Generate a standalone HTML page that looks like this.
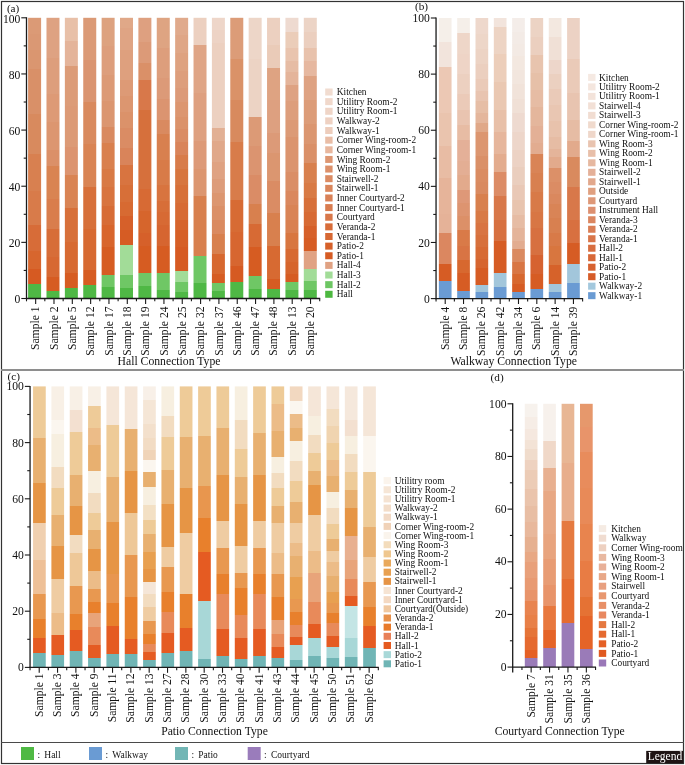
<!DOCTYPE html>
<html><head><meta charset="utf-8"><style>
html,body{margin:0;padding:0;background:#fff;width:685px;height:765px;overflow:hidden}
text{font-family:"Liberation Serif", serif}
</style></head><body>
<svg width="685" height="765" viewBox="0 0 685 765" style="position:absolute;left:0;top:0">
<rect x="0" y="0" width="685" height="765" fill="#ffffff"/>
<rect x="28.1" y="17.8" width="13" height="280.7" fill="url(#g0)"/>
<rect x="46.48" y="17.8" width="13" height="280.7" fill="url(#g1)"/>
<rect x="64.86" y="17.8" width="13" height="280.7" fill="url(#g2)"/>
<rect x="83.24" y="17.8" width="13" height="280.7" fill="url(#g3)"/>
<rect x="101.62" y="17.8" width="13" height="280.7" fill="url(#g4)"/>
<rect x="120" y="17.8" width="13" height="280.7" fill="url(#g5)"/>
<rect x="138.38" y="17.8" width="13" height="280.7" fill="url(#g6)"/>
<rect x="156.76" y="17.8" width="13" height="280.7" fill="url(#g7)"/>
<rect x="175.14" y="17.8" width="13" height="280.7" fill="url(#g8)"/>
<rect x="193.52" y="17.8" width="13" height="280.7" fill="url(#g9)"/>
<rect x="211.9" y="17.8" width="13" height="280.7" fill="url(#g10)"/>
<rect x="230.28" y="17.8" width="13" height="280.7" fill="url(#g11)"/>
<rect x="248.66" y="17.8" width="13" height="280.7" fill="url(#g12)"/>
<rect x="267.04" y="17.8" width="13" height="280.7" fill="url(#g13)"/>
<rect x="285.42" y="17.8" width="13" height="280.7" fill="url(#g14)"/>
<rect x="303.8" y="17.8" width="13" height="280.7" fill="url(#g15)"/>
<line x1="26.5" y1="17.3" x2="26.5" y2="299.1" stroke="#1a1a1a" stroke-width="1.3"/>
<line x1="25.9" y1="298.5" x2="320.2" y2="298.5" stroke="#1a1a1a" stroke-width="1.3"/>
<line x1="21.3" y1="298.5" x2="26.5" y2="298.5" stroke="#1a1a1a" stroke-width="1.1"/>
<line x1="23.7" y1="270.43" x2="26.5" y2="270.43" stroke="#1a1a1a" stroke-width="1.1"/>
<line x1="21.3" y1="242.36" x2="26.5" y2="242.36" stroke="#1a1a1a" stroke-width="1.1"/>
<line x1="23.7" y1="214.29" x2="26.5" y2="214.29" stroke="#1a1a1a" stroke-width="1.1"/>
<line x1="21.3" y1="186.22" x2="26.5" y2="186.22" stroke="#1a1a1a" stroke-width="1.1"/>
<line x1="23.7" y1="158.15" x2="26.5" y2="158.15" stroke="#1a1a1a" stroke-width="1.1"/>
<line x1="21.3" y1="130.08" x2="26.5" y2="130.08" stroke="#1a1a1a" stroke-width="1.1"/>
<line x1="23.7" y1="102.01" x2="26.5" y2="102.01" stroke="#1a1a1a" stroke-width="1.1"/>
<line x1="21.3" y1="73.94" x2="26.5" y2="73.94" stroke="#1a1a1a" stroke-width="1.1"/>
<line x1="23.7" y1="45.87" x2="26.5" y2="45.87" stroke="#1a1a1a" stroke-width="1.1"/>
<line x1="21.3" y1="17.8" x2="26.5" y2="17.8" stroke="#1a1a1a" stroke-width="1.1"/>
<line x1="26.5" y1="298.5" x2="26.5" y2="301.3" stroke="#1a1a1a" stroke-width="1.1"/>
<line x1="44.83" y1="298.5" x2="44.83" y2="301.3" stroke="#1a1a1a" stroke-width="1.1"/>
<line x1="63.15" y1="298.5" x2="63.15" y2="301.3" stroke="#1a1a1a" stroke-width="1.1"/>
<line x1="81.47" y1="298.5" x2="81.47" y2="301.3" stroke="#1a1a1a" stroke-width="1.1"/>
<line x1="99.8" y1="298.5" x2="99.8" y2="301.3" stroke="#1a1a1a" stroke-width="1.1"/>
<line x1="118.12" y1="298.5" x2="118.12" y2="301.3" stroke="#1a1a1a" stroke-width="1.1"/>
<line x1="136.45" y1="298.5" x2="136.45" y2="301.3" stroke="#1a1a1a" stroke-width="1.1"/>
<line x1="154.78" y1="298.5" x2="154.78" y2="301.3" stroke="#1a1a1a" stroke-width="1.1"/>
<line x1="173.1" y1="298.5" x2="173.1" y2="301.3" stroke="#1a1a1a" stroke-width="1.1"/>
<line x1="191.42" y1="298.5" x2="191.42" y2="301.3" stroke="#1a1a1a" stroke-width="1.1"/>
<line x1="209.75" y1="298.5" x2="209.75" y2="301.3" stroke="#1a1a1a" stroke-width="1.1"/>
<line x1="228.07" y1="298.5" x2="228.07" y2="301.3" stroke="#1a1a1a" stroke-width="1.1"/>
<line x1="246.4" y1="298.5" x2="246.4" y2="301.3" stroke="#1a1a1a" stroke-width="1.1"/>
<line x1="264.73" y1="298.5" x2="264.73" y2="301.3" stroke="#1a1a1a" stroke-width="1.1"/>
<line x1="283.05" y1="298.5" x2="283.05" y2="301.3" stroke="#1a1a1a" stroke-width="1.1"/>
<line x1="301.38" y1="298.5" x2="301.38" y2="301.3" stroke="#1a1a1a" stroke-width="1.1"/>
<line x1="319.7" y1="298.5" x2="319.7" y2="301.3" stroke="#1a1a1a" stroke-width="1.1"/>
<line x1="35.66" y1="298.5" x2="35.66" y2="303.9" stroke="#1a1a1a" stroke-width="1.1"/>
<line x1="53.99" y1="298.5" x2="53.99" y2="303.9" stroke="#1a1a1a" stroke-width="1.1"/>
<line x1="72.31" y1="298.5" x2="72.31" y2="303.9" stroke="#1a1a1a" stroke-width="1.1"/>
<line x1="90.64" y1="298.5" x2="90.64" y2="303.9" stroke="#1a1a1a" stroke-width="1.1"/>
<line x1="108.96" y1="298.5" x2="108.96" y2="303.9" stroke="#1a1a1a" stroke-width="1.1"/>
<line x1="127.29" y1="298.5" x2="127.29" y2="303.9" stroke="#1a1a1a" stroke-width="1.1"/>
<line x1="145.61" y1="298.5" x2="145.61" y2="303.9" stroke="#1a1a1a" stroke-width="1.1"/>
<line x1="163.94" y1="298.5" x2="163.94" y2="303.9" stroke="#1a1a1a" stroke-width="1.1"/>
<line x1="182.26" y1="298.5" x2="182.26" y2="303.9" stroke="#1a1a1a" stroke-width="1.1"/>
<line x1="200.59" y1="298.5" x2="200.59" y2="303.9" stroke="#1a1a1a" stroke-width="1.1"/>
<line x1="218.91" y1="298.5" x2="218.91" y2="303.9" stroke="#1a1a1a" stroke-width="1.1"/>
<line x1="237.24" y1="298.5" x2="237.24" y2="303.9" stroke="#1a1a1a" stroke-width="1.1"/>
<line x1="255.56" y1="298.5" x2="255.56" y2="303.9" stroke="#1a1a1a" stroke-width="1.1"/>
<line x1="273.89" y1="298.5" x2="273.89" y2="303.9" stroke="#1a1a1a" stroke-width="1.1"/>
<line x1="292.21" y1="298.5" x2="292.21" y2="303.9" stroke="#1a1a1a" stroke-width="1.1"/>
<line x1="310.54" y1="298.5" x2="310.54" y2="303.9" stroke="#1a1a1a" stroke-width="1.1"/>
<rect x="325.2" y="88.5" width="7.4" height="7" fill="#f1dcd0"/>
<rect x="325.2" y="98.13" width="7.4" height="7" fill="#f0d8cb"/>
<rect x="325.2" y="107.77" width="7.4" height="7" fill="#efd5c7"/>
<rect x="325.2" y="117.4" width="7.4" height="7" fill="#eed1c2"/>
<rect x="325.2" y="127.03" width="7.4" height="7" fill="#edcdbc"/>
<rect x="325.2" y="136.66" width="7.4" height="7" fill="#e9bda6"/>
<rect x="325.2" y="146.3" width="7.4" height="7" fill="#e8b79e"/>
<rect x="325.2" y="155.93" width="7.4" height="7" fill="#dd9672"/>
<rect x="325.2" y="165.56" width="7.4" height="7" fill="#dc906a"/>
<rect x="325.2" y="175.2" width="7.4" height="7" fill="#db8b63"/>
<rect x="325.2" y="184.83" width="7.4" height="7" fill="#da865c"/>
<rect x="325.2" y="194.46" width="7.4" height="7" fill="#d98157"/>
<rect x="325.2" y="204.1" width="7.4" height="7" fill="#d97c50"/>
<rect x="325.2" y="213.73" width="7.4" height="7" fill="#d8774a"/>
<rect x="325.2" y="223.36" width="7.4" height="7" fill="#d86d3a"/>
<rect x="325.2" y="232.99" width="7.4" height="7" fill="#d76833"/>
<rect x="325.2" y="242.63" width="7.4" height="7" fill="#d6612a"/>
<rect x="325.2" y="252.26" width="7.4" height="7" fill="#d65c24"/>
<rect x="325.2" y="261.89" width="7.4" height="7" fill="#e0a283"/>
<rect x="325.2" y="271.53" width="7.4" height="7" fill="#a2dc98"/>
<rect x="325.2" y="281.16" width="7.4" height="7" fill="#6dc663"/>
<rect x="325.2" y="290.79" width="7.4" height="7" fill="#4db840"/>
<rect x="438.86" y="18" width="12.7" height="280.6" fill="url(#g16)"/>
<rect x="457.18" y="18" width="12.7" height="280.6" fill="url(#g17)"/>
<rect x="475.5" y="18" width="12.7" height="280.6" fill="url(#g18)"/>
<rect x="493.82" y="18" width="12.7" height="280.6" fill="url(#g19)"/>
<rect x="512.14" y="18" width="12.7" height="280.6" fill="url(#g20)"/>
<rect x="530.46" y="18" width="12.7" height="280.6" fill="url(#g21)"/>
<rect x="548.78" y="18" width="12.7" height="280.6" fill="url(#g22)"/>
<rect x="567.1" y="18" width="12.7" height="280.6" fill="url(#g23)"/>
<line x1="436.05" y1="17.5" x2="436.05" y2="299.2" stroke="#1a1a1a" stroke-width="1.3"/>
<line x1="435.45" y1="298.6" x2="583.11" y2="298.6" stroke="#1a1a1a" stroke-width="1.3"/>
<line x1="430.85" y1="298.6" x2="436.05" y2="298.6" stroke="#1a1a1a" stroke-width="1.1"/>
<line x1="433.25" y1="270.54" x2="436.05" y2="270.54" stroke="#1a1a1a" stroke-width="1.1"/>
<line x1="430.85" y1="242.48" x2="436.05" y2="242.48" stroke="#1a1a1a" stroke-width="1.1"/>
<line x1="433.25" y1="214.42" x2="436.05" y2="214.42" stroke="#1a1a1a" stroke-width="1.1"/>
<line x1="430.85" y1="186.36" x2="436.05" y2="186.36" stroke="#1a1a1a" stroke-width="1.1"/>
<line x1="433.25" y1="158.3" x2="436.05" y2="158.3" stroke="#1a1a1a" stroke-width="1.1"/>
<line x1="430.85" y1="130.24" x2="436.05" y2="130.24" stroke="#1a1a1a" stroke-width="1.1"/>
<line x1="433.25" y1="102.18" x2="436.05" y2="102.18" stroke="#1a1a1a" stroke-width="1.1"/>
<line x1="430.85" y1="74.12" x2="436.05" y2="74.12" stroke="#1a1a1a" stroke-width="1.1"/>
<line x1="433.25" y1="46.06" x2="436.05" y2="46.06" stroke="#1a1a1a" stroke-width="1.1"/>
<line x1="430.85" y1="18" x2="436.05" y2="18" stroke="#1a1a1a" stroke-width="1.1"/>
<line x1="436.05" y1="298.6" x2="436.05" y2="301.4" stroke="#1a1a1a" stroke-width="1.1"/>
<line x1="454.37" y1="298.6" x2="454.37" y2="301.4" stroke="#1a1a1a" stroke-width="1.1"/>
<line x1="472.69" y1="298.6" x2="472.69" y2="301.4" stroke="#1a1a1a" stroke-width="1.1"/>
<line x1="491.01" y1="298.6" x2="491.01" y2="301.4" stroke="#1a1a1a" stroke-width="1.1"/>
<line x1="509.33" y1="298.6" x2="509.33" y2="301.4" stroke="#1a1a1a" stroke-width="1.1"/>
<line x1="527.65" y1="298.6" x2="527.65" y2="301.4" stroke="#1a1a1a" stroke-width="1.1"/>
<line x1="545.97" y1="298.6" x2="545.97" y2="301.4" stroke="#1a1a1a" stroke-width="1.1"/>
<line x1="564.29" y1="298.6" x2="564.29" y2="301.4" stroke="#1a1a1a" stroke-width="1.1"/>
<line x1="582.61" y1="298.6" x2="582.61" y2="301.4" stroke="#1a1a1a" stroke-width="1.1"/>
<line x1="445.21" y1="298.6" x2="445.21" y2="304" stroke="#1a1a1a" stroke-width="1.1"/>
<line x1="463.53" y1="298.6" x2="463.53" y2="304" stroke="#1a1a1a" stroke-width="1.1"/>
<line x1="481.85" y1="298.6" x2="481.85" y2="304" stroke="#1a1a1a" stroke-width="1.1"/>
<line x1="500.17" y1="298.6" x2="500.17" y2="304" stroke="#1a1a1a" stroke-width="1.1"/>
<line x1="518.49" y1="298.6" x2="518.49" y2="304" stroke="#1a1a1a" stroke-width="1.1"/>
<line x1="536.81" y1="298.6" x2="536.81" y2="304" stroke="#1a1a1a" stroke-width="1.1"/>
<line x1="555.13" y1="298.6" x2="555.13" y2="304" stroke="#1a1a1a" stroke-width="1.1"/>
<line x1="573.45" y1="298.6" x2="573.45" y2="304" stroke="#1a1a1a" stroke-width="1.1"/>
<rect x="588.1" y="73.9" width="7.4" height="7" fill="#f5e9e2"/>
<rect x="588.1" y="83.39" width="7.4" height="7" fill="#f4e6de"/>
<rect x="588.1" y="92.88" width="7.4" height="7" fill="#f3e3da"/>
<rect x="588.1" y="102.37" width="7.4" height="7" fill="#f2e0d6"/>
<rect x="588.1" y="111.86" width="7.4" height="7" fill="#f1ddd2"/>
<rect x="588.1" y="121.35" width="7.4" height="7" fill="#f0dacd"/>
<rect x="588.1" y="130.84" width="7.4" height="7" fill="#efd7ca"/>
<rect x="588.1" y="140.33" width="7.4" height="7" fill="#e9c4b0"/>
<rect x="588.1" y="149.82" width="7.4" height="7" fill="#e8bfa9"/>
<rect x="588.1" y="159.31" width="7.4" height="7" fill="#e6b8a0"/>
<rect x="588.1" y="168.8" width="7.4" height="7" fill="#e4b098"/>
<rect x="588.1" y="178.29" width="7.4" height="7" fill="#e2a88c"/>
<rect x="588.1" y="187.78" width="7.4" height="7" fill="#e0a080"/>
<rect x="588.1" y="197.27" width="7.4" height="7" fill="#de9878"/>
<rect x="588.1" y="206.76" width="7.4" height="7" fill="#dd9070"/>
<rect x="588.1" y="216.25" width="7.4" height="7" fill="#db8660"/>
<rect x="588.1" y="225.74" width="7.4" height="7" fill="#da7e55"/>
<rect x="588.1" y="235.23" width="7.4" height="7" fill="#d9764a"/>
<rect x="588.1" y="244.72" width="7.4" height="7" fill="#d86e40"/>
<rect x="588.1" y="254.21" width="7.4" height="7" fill="#d86838"/>
<rect x="588.1" y="263.7" width="7.4" height="7" fill="#d76230"/>
<rect x="588.1" y="273.19" width="7.4" height="7" fill="#d65c28"/>
<rect x="588.1" y="282.68" width="7.4" height="7" fill="#a3c8dd"/>
<rect x="588.1" y="292.17" width="7.4" height="7" fill="#6a9bd3"/>
<rect x="33.05" y="386.4" width="12.7" height="281" fill="url(#g24)"/>
<rect x="51.39" y="386.4" width="12.7" height="281" fill="url(#g25)"/>
<rect x="69.73" y="386.4" width="12.7" height="281" fill="url(#g26)"/>
<rect x="88.07" y="386.4" width="12.7" height="281" fill="url(#g27)"/>
<rect x="106.41" y="386.4" width="12.7" height="281" fill="url(#g28)"/>
<rect x="124.75" y="386.4" width="12.7" height="281" fill="url(#g29)"/>
<rect x="143.09" y="386.4" width="12.7" height="281" fill="url(#g30)"/>
<rect x="161.43" y="386.4" width="12.7" height="281" fill="url(#g31)"/>
<rect x="179.77" y="386.4" width="12.7" height="281" fill="url(#g32)"/>
<rect x="198.11" y="386.4" width="12.7" height="281" fill="url(#g33)"/>
<rect x="216.45" y="386.4" width="12.7" height="281" fill="url(#g34)"/>
<rect x="234.79" y="386.4" width="12.7" height="281" fill="url(#g35)"/>
<rect x="253.13" y="386.4" width="12.7" height="281" fill="url(#g36)"/>
<rect x="271.47" y="386.4" width="12.7" height="281" fill="url(#g37)"/>
<rect x="289.81" y="386.4" width="12.7" height="281" fill="url(#g38)"/>
<rect x="308.15" y="386.4" width="12.7" height="281" fill="url(#g39)"/>
<rect x="326.49" y="386.4" width="12.7" height="281" fill="url(#g40)"/>
<rect x="344.83" y="386.4" width="12.7" height="281" fill="url(#g41)"/>
<rect x="363.17" y="386.4" width="12.7" height="281" fill="url(#g42)"/>
<line x1="30.05" y1="385.9" x2="30.05" y2="668" stroke="#1a1a1a" stroke-width="1.3"/>
<line x1="29.45" y1="667.4" x2="378.82" y2="667.4" stroke="#1a1a1a" stroke-width="1.3"/>
<line x1="24.85" y1="667.4" x2="30.05" y2="667.4" stroke="#1a1a1a" stroke-width="1.1"/>
<line x1="27.25" y1="639.3" x2="30.05" y2="639.3" stroke="#1a1a1a" stroke-width="1.1"/>
<line x1="24.85" y1="611.2" x2="30.05" y2="611.2" stroke="#1a1a1a" stroke-width="1.1"/>
<line x1="27.25" y1="583.1" x2="30.05" y2="583.1" stroke="#1a1a1a" stroke-width="1.1"/>
<line x1="24.85" y1="555" x2="30.05" y2="555" stroke="#1a1a1a" stroke-width="1.1"/>
<line x1="27.25" y1="526.9" x2="30.05" y2="526.9" stroke="#1a1a1a" stroke-width="1.1"/>
<line x1="24.85" y1="498.8" x2="30.05" y2="498.8" stroke="#1a1a1a" stroke-width="1.1"/>
<line x1="27.25" y1="470.7" x2="30.05" y2="470.7" stroke="#1a1a1a" stroke-width="1.1"/>
<line x1="24.85" y1="442.6" x2="30.05" y2="442.6" stroke="#1a1a1a" stroke-width="1.1"/>
<line x1="27.25" y1="414.5" x2="30.05" y2="414.5" stroke="#1a1a1a" stroke-width="1.1"/>
<line x1="24.85" y1="386.4" x2="30.05" y2="386.4" stroke="#1a1a1a" stroke-width="1.1"/>
<line x1="30.05" y1="667.4" x2="30.05" y2="670.2" stroke="#1a1a1a" stroke-width="1.1"/>
<line x1="48.38" y1="667.4" x2="48.38" y2="670.2" stroke="#1a1a1a" stroke-width="1.1"/>
<line x1="66.71" y1="667.4" x2="66.71" y2="670.2" stroke="#1a1a1a" stroke-width="1.1"/>
<line x1="85.04" y1="667.4" x2="85.04" y2="670.2" stroke="#1a1a1a" stroke-width="1.1"/>
<line x1="103.37" y1="667.4" x2="103.37" y2="670.2" stroke="#1a1a1a" stroke-width="1.1"/>
<line x1="121.7" y1="667.4" x2="121.7" y2="670.2" stroke="#1a1a1a" stroke-width="1.1"/>
<line x1="140.03" y1="667.4" x2="140.03" y2="670.2" stroke="#1a1a1a" stroke-width="1.1"/>
<line x1="158.36" y1="667.4" x2="158.36" y2="670.2" stroke="#1a1a1a" stroke-width="1.1"/>
<line x1="176.69" y1="667.4" x2="176.69" y2="670.2" stroke="#1a1a1a" stroke-width="1.1"/>
<line x1="195.02" y1="667.4" x2="195.02" y2="670.2" stroke="#1a1a1a" stroke-width="1.1"/>
<line x1="213.35" y1="667.4" x2="213.35" y2="670.2" stroke="#1a1a1a" stroke-width="1.1"/>
<line x1="231.68" y1="667.4" x2="231.68" y2="670.2" stroke="#1a1a1a" stroke-width="1.1"/>
<line x1="250.01" y1="667.4" x2="250.01" y2="670.2" stroke="#1a1a1a" stroke-width="1.1"/>
<line x1="268.34" y1="667.4" x2="268.34" y2="670.2" stroke="#1a1a1a" stroke-width="1.1"/>
<line x1="286.67" y1="667.4" x2="286.67" y2="670.2" stroke="#1a1a1a" stroke-width="1.1"/>
<line x1="305" y1="667.4" x2="305" y2="670.2" stroke="#1a1a1a" stroke-width="1.1"/>
<line x1="323.33" y1="667.4" x2="323.33" y2="670.2" stroke="#1a1a1a" stroke-width="1.1"/>
<line x1="341.66" y1="667.4" x2="341.66" y2="670.2" stroke="#1a1a1a" stroke-width="1.1"/>
<line x1="359.99" y1="667.4" x2="359.99" y2="670.2" stroke="#1a1a1a" stroke-width="1.1"/>
<line x1="378.32" y1="667.4" x2="378.32" y2="670.2" stroke="#1a1a1a" stroke-width="1.1"/>
<line x1="39.22" y1="667.4" x2="39.22" y2="672.8" stroke="#1a1a1a" stroke-width="1.1"/>
<line x1="57.55" y1="667.4" x2="57.55" y2="672.8" stroke="#1a1a1a" stroke-width="1.1"/>
<line x1="75.88" y1="667.4" x2="75.88" y2="672.8" stroke="#1a1a1a" stroke-width="1.1"/>
<line x1="94.2" y1="667.4" x2="94.2" y2="672.8" stroke="#1a1a1a" stroke-width="1.1"/>
<line x1="112.53" y1="667.4" x2="112.53" y2="672.8" stroke="#1a1a1a" stroke-width="1.1"/>
<line x1="130.87" y1="667.4" x2="130.87" y2="672.8" stroke="#1a1a1a" stroke-width="1.1"/>
<line x1="149.19" y1="667.4" x2="149.19" y2="672.8" stroke="#1a1a1a" stroke-width="1.1"/>
<line x1="167.53" y1="667.4" x2="167.53" y2="672.8" stroke="#1a1a1a" stroke-width="1.1"/>
<line x1="185.85" y1="667.4" x2="185.85" y2="672.8" stroke="#1a1a1a" stroke-width="1.1"/>
<line x1="204.19" y1="667.4" x2="204.19" y2="672.8" stroke="#1a1a1a" stroke-width="1.1"/>
<line x1="222.51" y1="667.4" x2="222.51" y2="672.8" stroke="#1a1a1a" stroke-width="1.1"/>
<line x1="240.84" y1="667.4" x2="240.84" y2="672.8" stroke="#1a1a1a" stroke-width="1.1"/>
<line x1="259.17" y1="667.4" x2="259.17" y2="672.8" stroke="#1a1a1a" stroke-width="1.1"/>
<line x1="277.5" y1="667.4" x2="277.5" y2="672.8" stroke="#1a1a1a" stroke-width="1.1"/>
<line x1="295.83" y1="667.4" x2="295.83" y2="672.8" stroke="#1a1a1a" stroke-width="1.1"/>
<line x1="314.16" y1="667.4" x2="314.16" y2="672.8" stroke="#1a1a1a" stroke-width="1.1"/>
<line x1="332.5" y1="667.4" x2="332.5" y2="672.8" stroke="#1a1a1a" stroke-width="1.1"/>
<line x1="350.82" y1="667.4" x2="350.82" y2="672.8" stroke="#1a1a1a" stroke-width="1.1"/>
<line x1="369.15" y1="667.4" x2="369.15" y2="672.8" stroke="#1a1a1a" stroke-width="1.1"/>
<rect x="383.6" y="477.1" width="7.4" height="7" fill="#fbf4ec"/>
<rect x="383.6" y="486.26" width="7.4" height="7" fill="#f6e6d6"/>
<rect x="383.6" y="495.42" width="7.4" height="7" fill="#f5e3d2"/>
<rect x="383.6" y="504.58" width="7.4" height="7" fill="#f3ddc9"/>
<rect x="383.6" y="513.74" width="7.4" height="7" fill="#f2dac6"/>
<rect x="383.6" y="522.9" width="7.4" height="7" fill="#f0d2b8"/>
<rect x="383.6" y="532.06" width="7.4" height="7" fill="#faf4ec"/>
<rect x="383.6" y="541.22" width="7.4" height="7" fill="#f3dcbc"/>
<rect x="383.6" y="550.38" width="7.4" height="7" fill="#efc78f"/>
<rect x="383.6" y="559.54" width="7.4" height="7" fill="#e9a95c"/>
<rect x="383.6" y="568.7" width="7.4" height="7" fill="#e8a050"/>
<rect x="383.6" y="577.86" width="7.4" height="7" fill="#e69445"/>
<rect x="383.6" y="587.02" width="7.4" height="7" fill="#f6e4d3"/>
<rect x="383.6" y="596.18" width="7.4" height="7" fill="#f4d9c2"/>
<rect x="383.6" y="605.34" width="7.4" height="7" fill="#f0c8a0"/>
<rect x="383.6" y="614.5" width="7.4" height="7" fill="#e8904a"/>
<rect x="383.6" y="623.66" width="7.4" height="7" fill="#e87a2a"/>
<rect x="383.6" y="632.82" width="7.4" height="7" fill="#e88058"/>
<rect x="383.6" y="641.98" width="7.4" height="7" fill="#e55a20"/>
<rect x="383.6" y="651.14" width="7.4" height="7" fill="#a8d8d8"/>
<rect x="383.6" y="660.3" width="7.4" height="7" fill="#6fb5b5"/>
<rect x="524.8" y="403.8" width="12.7" height="263.3" fill="url(#g43)"/>
<rect x="543.2" y="403.8" width="12.7" height="263.3" fill="url(#g44)"/>
<rect x="561.6" y="403.8" width="12.7" height="263.3" fill="url(#g45)"/>
<rect x="580" y="403.8" width="12.7" height="263.3" fill="url(#g46)"/>
<line x1="512.7" y1="403.3" x2="512.7" y2="672.5" stroke="#1a1a1a" stroke-width="1.3"/>
<line x1="512.1" y1="667.1" x2="596.05" y2="667.1" stroke="#1a1a1a" stroke-width="1.3"/>
<line x1="507.5" y1="667.1" x2="512.7" y2="667.1" stroke="#1a1a1a" stroke-width="1.1"/>
<line x1="509.9" y1="640.77" x2="512.7" y2="640.77" stroke="#1a1a1a" stroke-width="1.1"/>
<line x1="507.5" y1="614.44" x2="512.7" y2="614.44" stroke="#1a1a1a" stroke-width="1.1"/>
<line x1="509.9" y1="588.11" x2="512.7" y2="588.11" stroke="#1a1a1a" stroke-width="1.1"/>
<line x1="507.5" y1="561.78" x2="512.7" y2="561.78" stroke="#1a1a1a" stroke-width="1.1"/>
<line x1="509.9" y1="535.45" x2="512.7" y2="535.45" stroke="#1a1a1a" stroke-width="1.1"/>
<line x1="507.5" y1="509.12" x2="512.7" y2="509.12" stroke="#1a1a1a" stroke-width="1.1"/>
<line x1="509.9" y1="482.79" x2="512.7" y2="482.79" stroke="#1a1a1a" stroke-width="1.1"/>
<line x1="507.5" y1="456.46" x2="512.7" y2="456.46" stroke="#1a1a1a" stroke-width="1.1"/>
<line x1="509.9" y1="430.13" x2="512.7" y2="430.13" stroke="#1a1a1a" stroke-width="1.1"/>
<line x1="507.5" y1="403.8" x2="512.7" y2="403.8" stroke="#1a1a1a" stroke-width="1.1"/>
<line x1="521.95" y1="667.1" x2="521.95" y2="669.9" stroke="#1a1a1a" stroke-width="1.1"/>
<line x1="540.35" y1="667.1" x2="540.35" y2="669.9" stroke="#1a1a1a" stroke-width="1.1"/>
<line x1="558.75" y1="667.1" x2="558.75" y2="669.9" stroke="#1a1a1a" stroke-width="1.1"/>
<line x1="577.15" y1="667.1" x2="577.15" y2="669.9" stroke="#1a1a1a" stroke-width="1.1"/>
<line x1="595.55" y1="667.1" x2="595.55" y2="669.9" stroke="#1a1a1a" stroke-width="1.1"/>
<line x1="531.15" y1="667.1" x2="531.15" y2="672.5" stroke="#1a1a1a" stroke-width="1.1"/>
<line x1="549.55" y1="667.1" x2="549.55" y2="672.5" stroke="#1a1a1a" stroke-width="1.1"/>
<line x1="567.95" y1="667.1" x2="567.95" y2="672.5" stroke="#1a1a1a" stroke-width="1.1"/>
<line x1="586.35" y1="667.1" x2="586.35" y2="672.5" stroke="#1a1a1a" stroke-width="1.1"/>
<rect x="598.8" y="525.1" width="7.4" height="7" fill="#f5ebe3"/>
<rect x="598.8" y="534.7" width="7.4" height="7" fill="#f0dcd0"/>
<rect x="598.8" y="544.3" width="7.4" height="7" fill="#edd0c0"/>
<rect x="598.8" y="553.9" width="7.4" height="7" fill="#e8b8a0"/>
<rect x="598.8" y="563.5" width="7.4" height="7" fill="#e8b098"/>
<rect x="598.8" y="573.1" width="7.4" height="7" fill="#e8a888"/>
<rect x="598.8" y="582.7" width="7.4" height="7" fill="#e8a080"/>
<rect x="598.8" y="592.3" width="7.4" height="7" fill="#e89870"/>
<rect x="598.8" y="601.9" width="7.4" height="7" fill="#e89068"/>
<rect x="598.8" y="611.5" width="7.4" height="7" fill="#e88860"/>
<rect x="598.8" y="621.1" width="7.4" height="7" fill="#e57840"/>
<rect x="598.8" y="630.7" width="7.4" height="7" fill="#e56a30"/>
<rect x="598.8" y="640.3" width="7.4" height="7" fill="#e56025"/>
<rect x="598.8" y="649.9" width="7.4" height="7" fill="#e05a20"/>
<rect x="598.8" y="659.5" width="7.4" height="7" fill="#9a78b8"/>
<defs><linearGradient id="g0" gradientUnits="userSpaceOnUse" x1="0" y1="298.5" x2="0" y2="17.8"><stop offset="0.0000" stop-color="#4fb845"/><stop offset="0.0510" stop-color="#4fb845"/><stop offset="0.0510" stop-color="#d65a22"/><stop offset="0.1060" stop-color="#d65a22"/><stop offset="0.1060" stop-color="#d7662e"/><stop offset="0.1700" stop-color="#d7662e"/><stop offset="0.1700" stop-color="#d76c38"/><stop offset="0.2620" stop-color="#d76c38"/><stop offset="0.2620" stop-color="#d87b4a"/><stop offset="0.3820" stop-color="#d87b4a"/><stop offset="0.3820" stop-color="#d88050"/><stop offset="0.5140" stop-color="#d88050"/><stop offset="0.5140" stop-color="#d88a5e"/><stop offset="0.6590" stop-color="#d88a5e"/><stop offset="0.6590" stop-color="#d99068"/><stop offset="0.8180" stop-color="#d99068"/><stop offset="0.8180" stop-color="#da9670"/><stop offset="0.8850" stop-color="#da9670"/><stop offset="0.8850" stop-color="#da9874"/><stop offset="0.9430" stop-color="#da9874"/><stop offset="0.9430" stop-color="#db9a76"/><stop offset="1.0000" stop-color="#db9a76"/></linearGradient><linearGradient id="g1" gradientUnits="userSpaceOnUse" x1="0" y1="298.5" x2="0" y2="17.8"><stop offset="0.0000" stop-color="#4fb845"/><stop offset="0.0270" stop-color="#4fb845"/><stop offset="0.0270" stop-color="#d65c22"/><stop offset="0.0770" stop-color="#d65c22"/><stop offset="0.0770" stop-color="#d76832"/><stop offset="0.1470" stop-color="#d76832"/><stop offset="0.1470" stop-color="#d76d38"/><stop offset="0.2470" stop-color="#d76d38"/><stop offset="0.2470" stop-color="#d97d4c"/><stop offset="0.3540" stop-color="#d97d4c"/><stop offset="0.3540" stop-color="#d98452"/><stop offset="0.4720" stop-color="#d98452"/><stop offset="0.4720" stop-color="#db9068"/><stop offset="0.5300" stop-color="#db9068"/><stop offset="0.5300" stop-color="#dc9670"/><stop offset="0.6290" stop-color="#dc9670"/><stop offset="0.6290" stop-color="#dd9a76"/><stop offset="0.7300" stop-color="#dd9a76"/><stop offset="0.7300" stop-color="#dd9e7c"/><stop offset="0.8580" stop-color="#dd9e7c"/><stop offset="0.8580" stop-color="#dea282"/><stop offset="1.0000" stop-color="#dea282"/></linearGradient><linearGradient id="g2" gradientUnits="userSpaceOnUse" x1="0" y1="298.5" x2="0" y2="17.8"><stop offset="0.0000" stop-color="#4fb845"/><stop offset="0.0380" stop-color="#4fb845"/><stop offset="0.0380" stop-color="#d65c22"/><stop offset="0.0920" stop-color="#d65c22"/><stop offset="0.0920" stop-color="#d76a32"/><stop offset="0.2030" stop-color="#d76a32"/><stop offset="0.2030" stop-color="#d7703a"/><stop offset="0.3230" stop-color="#d7703a"/><stop offset="0.3230" stop-color="#d98454"/><stop offset="0.4400" stop-color="#d98454"/><stop offset="0.4400" stop-color="#dc9470"/><stop offset="0.5380" stop-color="#dc9470"/><stop offset="0.5380" stop-color="#dc9a76"/><stop offset="0.6860" stop-color="#dc9a76"/><stop offset="0.6860" stop-color="#dc9c78"/><stop offset="0.8290" stop-color="#dc9c78"/><stop offset="0.8290" stop-color="#e4b49a"/><stop offset="0.9170" stop-color="#e4b49a"/><stop offset="0.9170" stop-color="#e8c0a8"/><stop offset="1.0000" stop-color="#e8c0a8"/></linearGradient><linearGradient id="g3" gradientUnits="userSpaceOnUse" x1="0" y1="298.5" x2="0" y2="17.8"><stop offset="0.0000" stop-color="#4fb845"/><stop offset="0.0480" stop-color="#4fb845"/><stop offset="0.0480" stop-color="#d65c22"/><stop offset="0.1000" stop-color="#d65c22"/><stop offset="0.1000" stop-color="#d76a32"/><stop offset="0.2470" stop-color="#d76a32"/><stop offset="0.2470" stop-color="#d7703a"/><stop offset="0.3990" stop-color="#d7703a"/><stop offset="0.3990" stop-color="#d98454"/><stop offset="0.5510" stop-color="#d98454"/><stop offset="0.5510" stop-color="#d98a5e"/><stop offset="0.7000" stop-color="#d98a5e"/><stop offset="0.7000" stop-color="#da9470"/><stop offset="0.8510" stop-color="#da9470"/><stop offset="0.8510" stop-color="#db9a76"/><stop offset="1.0000" stop-color="#db9a76"/></linearGradient><linearGradient id="g4" gradientUnits="userSpaceOnUse" x1="0" y1="298.5" x2="0" y2="17.8"><stop offset="0.0000" stop-color="#4fb845"/><stop offset="0.0410" stop-color="#4fb845"/><stop offset="0.0410" stop-color="#6fc765"/><stop offset="0.0850" stop-color="#6fc765"/><stop offset="0.0850" stop-color="#d65c22"/><stop offset="0.1830" stop-color="#d65c22"/><stop offset="0.1830" stop-color="#d8652c"/><stop offset="0.2610" stop-color="#d8652c"/><stop offset="0.2610" stop-color="#d76c36"/><stop offset="0.3280" stop-color="#d76c36"/><stop offset="0.3280" stop-color="#d8743f"/><stop offset="0.3990" stop-color="#d8743f"/><stop offset="0.3990" stop-color="#d87a45"/><stop offset="0.4600" stop-color="#d87a45"/><stop offset="0.4600" stop-color="#d9804e"/><stop offset="0.5540" stop-color="#d9804e"/><stop offset="0.5540" stop-color="#d98a60"/><stop offset="0.6110" stop-color="#d98a60"/><stop offset="0.6110" stop-color="#db9670"/><stop offset="0.7020" stop-color="#db9670"/><stop offset="0.7020" stop-color="#dc9a76"/><stop offset="0.7950" stop-color="#dc9a76"/><stop offset="0.7950" stop-color="#dd9e7c"/><stop offset="0.8980" stop-color="#dd9e7c"/><stop offset="0.8980" stop-color="#dda27f"/><stop offset="1.0000" stop-color="#dda27f"/></linearGradient><linearGradient id="g5" gradientUnits="userSpaceOnUse" x1="0" y1="298.5" x2="0" y2="17.8"><stop offset="0.0000" stop-color="#4fb845"/><stop offset="0.0380" stop-color="#4fb845"/><stop offset="0.0380" stop-color="#6fc765"/><stop offset="0.0850" stop-color="#6fc765"/><stop offset="0.0850" stop-color="#a2dc98"/><stop offset="0.1900" stop-color="#a2dc98"/><stop offset="0.1900" stop-color="#d65c24"/><stop offset="0.2440" stop-color="#d65c24"/><stop offset="0.2440" stop-color="#d6602a"/><stop offset="0.2950" stop-color="#d6602a"/><stop offset="0.2950" stop-color="#d76a32"/><stop offset="0.3450" stop-color="#d76a32"/><stop offset="0.3450" stop-color="#d76f38"/><stop offset="0.4030" stop-color="#d76f38"/><stop offset="0.4030" stop-color="#d87440"/><stop offset="0.4770" stop-color="#d87440"/><stop offset="0.4770" stop-color="#d9845a"/><stop offset="0.5370" stop-color="#d9845a"/><stop offset="0.5370" stop-color="#da8c64"/><stop offset="0.6080" stop-color="#da8c64"/><stop offset="0.6080" stop-color="#db926a"/><stop offset="0.6650" stop-color="#db926a"/><stop offset="0.6650" stop-color="#dc9670"/><stop offset="0.7230" stop-color="#dc9670"/><stop offset="0.7230" stop-color="#dd9a76"/><stop offset="0.7800" stop-color="#dd9a76"/><stop offset="0.7800" stop-color="#dea07e"/><stop offset="0.8850" stop-color="#dea07e"/><stop offset="0.8850" stop-color="#dfa484"/><stop offset="0.9630" stop-color="#dfa484"/><stop offset="0.9630" stop-color="#e0a888"/><stop offset="1.0000" stop-color="#e0a888"/></linearGradient><linearGradient id="g6" gradientUnits="userSpaceOnUse" x1="0" y1="298.5" x2="0" y2="17.8"><stop offset="0.0000" stop-color="#4fb845"/><stop offset="0.0450" stop-color="#4fb845"/><stop offset="0.0450" stop-color="#6fc765"/><stop offset="0.0920" stop-color="#6fc765"/><stop offset="0.0920" stop-color="#d65c22"/><stop offset="0.1860" stop-color="#d65c22"/><stop offset="0.1860" stop-color="#d6602a"/><stop offset="0.2340" stop-color="#d6602a"/><stop offset="0.2340" stop-color="#d6652c"/><stop offset="0.3120" stop-color="#d6652c"/><stop offset="0.3120" stop-color="#d76a34"/><stop offset="0.3890" stop-color="#d76a34"/><stop offset="0.3890" stop-color="#d6703c"/><stop offset="0.5130" stop-color="#d6703c"/><stop offset="0.5130" stop-color="#d6703c"/><stop offset="0.6720" stop-color="#d6703c"/><stop offset="0.6720" stop-color="#d8784a"/><stop offset="0.7800" stop-color="#d8784a"/><stop offset="0.7800" stop-color="#da9068"/><stop offset="0.8380" stop-color="#da9068"/><stop offset="0.8380" stop-color="#dc9a78"/><stop offset="0.9150" stop-color="#dc9a78"/><stop offset="0.9150" stop-color="#dea080"/><stop offset="1.0000" stop-color="#dea080"/></linearGradient><linearGradient id="g7" gradientUnits="userSpaceOnUse" x1="0" y1="298.5" x2="0" y2="17.8"><stop offset="0.0000" stop-color="#4fb845"/><stop offset="0.0300" stop-color="#4fb845"/><stop offset="0.0300" stop-color="#6fc765"/><stop offset="0.0920" stop-color="#6fc765"/><stop offset="0.0920" stop-color="#d65c22"/><stop offset="0.1860" stop-color="#d65c22"/><stop offset="0.1860" stop-color="#d66530"/><stop offset="0.2610" stop-color="#d66530"/><stop offset="0.2610" stop-color="#d76a34"/><stop offset="0.3080" stop-color="#d76a34"/><stop offset="0.3080" stop-color="#d76e38"/><stop offset="0.3490" stop-color="#d76e38"/><stop offset="0.3490" stop-color="#d8743f"/><stop offset="0.4030" stop-color="#d8743f"/><stop offset="0.4030" stop-color="#d87b48"/><stop offset="0.4940" stop-color="#d87b48"/><stop offset="0.4940" stop-color="#d8804f"/><stop offset="0.5860" stop-color="#d8804f"/><stop offset="0.5860" stop-color="#d98a60"/><stop offset="0.6350" stop-color="#d98a60"/><stop offset="0.6350" stop-color="#db9470"/><stop offset="0.7090" stop-color="#db9470"/><stop offset="0.7090" stop-color="#dc9a78"/><stop offset="0.7870" stop-color="#dc9a78"/><stop offset="0.7870" stop-color="#dd9e7c"/><stop offset="0.8920" stop-color="#dd9e7c"/><stop offset="0.8920" stop-color="#dea482"/><stop offset="1.0000" stop-color="#dea482"/></linearGradient><linearGradient id="g8" gradientUnits="userSpaceOnUse" x1="0" y1="298.5" x2="0" y2="17.8"><stop offset="0.0000" stop-color="#4fb845"/><stop offset="0.0230" stop-color="#4fb845"/><stop offset="0.0230" stop-color="#6fc765"/><stop offset="0.0600" stop-color="#6fc765"/><stop offset="0.0600" stop-color="#a2dc98"/><stop offset="0.0970" stop-color="#a2dc98"/><stop offset="0.0970" stop-color="#d65a22"/><stop offset="0.1830" stop-color="#d65a22"/><stop offset="0.1830" stop-color="#d65f26"/><stop offset="0.2440" stop-color="#d65f26"/><stop offset="0.2440" stop-color="#d6642c"/><stop offset="0.2810" stop-color="#d6642c"/><stop offset="0.2810" stop-color="#d76b34"/><stop offset="0.3420" stop-color="#d76b34"/><stop offset="0.3420" stop-color="#d77038"/><stop offset="0.4030" stop-color="#d77038"/><stop offset="0.4030" stop-color="#d7763f"/><stop offset="0.4630" stop-color="#d7763f"/><stop offset="0.4630" stop-color="#d87c4a"/><stop offset="0.5130" stop-color="#d87c4a"/><stop offset="0.5130" stop-color="#d9845a"/><stop offset="0.5570" stop-color="#d9845a"/><stop offset="0.5570" stop-color="#da8c64"/><stop offset="0.6050" stop-color="#da8c64"/><stop offset="0.6050" stop-color="#db926a"/><stop offset="0.6450" stop-color="#db926a"/><stop offset="0.6450" stop-color="#dc9670"/><stop offset="0.6990" stop-color="#dc9670"/><stop offset="0.6990" stop-color="#dc9a78"/><stop offset="0.7500" stop-color="#dc9a78"/><stop offset="0.7500" stop-color="#dd9e7c"/><stop offset="0.8110" stop-color="#dd9e7c"/><stop offset="0.8110" stop-color="#dea280"/><stop offset="0.8750" stop-color="#dea280"/><stop offset="0.8750" stop-color="#dfa686"/><stop offset="0.9390" stop-color="#dfa686"/><stop offset="0.9390" stop-color="#e0aa8c"/><stop offset="1.0000" stop-color="#e0aa8c"/></linearGradient><linearGradient id="g9" gradientUnits="userSpaceOnUse" x1="0" y1="298.5" x2="0" y2="17.8"><stop offset="0.0000" stop-color="#4fb845"/><stop offset="0.0550" stop-color="#4fb845"/><stop offset="0.0550" stop-color="#6fc765"/><stop offset="0.1530" stop-color="#6fc765"/><stop offset="0.1530" stop-color="#d8804e"/><stop offset="0.3650" stop-color="#d8804e"/><stop offset="0.3650" stop-color="#dc9670"/><stop offset="0.4630" stop-color="#dc9670"/><stop offset="0.4630" stop-color="#dd9a78"/><stop offset="0.5610" stop-color="#dd9a78"/><stop offset="0.5610" stop-color="#dea080"/><stop offset="0.7330" stop-color="#dea080"/><stop offset="0.7330" stop-color="#dfa586"/><stop offset="0.9030" stop-color="#dfa586"/><stop offset="0.9030" stop-color="#ecd0c0"/><stop offset="1.0000" stop-color="#ecd0c0"/></linearGradient><linearGradient id="g10" gradientUnits="userSpaceOnUse" x1="0" y1="298.5" x2="0" y2="17.8"><stop offset="0.0000" stop-color="#4fb845"/><stop offset="0.0260" stop-color="#4fb845"/><stop offset="0.0260" stop-color="#6fc765"/><stop offset="0.0550" stop-color="#6fc765"/><stop offset="0.0550" stop-color="#d65c22"/><stop offset="0.0880" stop-color="#d65c22"/><stop offset="0.0880" stop-color="#d7682f"/><stop offset="0.1590" stop-color="#d7682f"/><stop offset="0.1590" stop-color="#d8804e"/><stop offset="0.2300" stop-color="#d8804e"/><stop offset="0.2300" stop-color="#da8a60"/><stop offset="0.2810" stop-color="#da8a60"/><stop offset="0.2810" stop-color="#db9068"/><stop offset="0.3280" stop-color="#db9068"/><stop offset="0.3280" stop-color="#dc9670"/><stop offset="0.3760" stop-color="#dc9670"/><stop offset="0.3760" stop-color="#dd9c7a"/><stop offset="0.4260" stop-color="#dd9c7a"/><stop offset="0.4260" stop-color="#dfa282"/><stop offset="0.4870" stop-color="#dfa282"/><stop offset="0.4870" stop-color="#e0a88a"/><stop offset="0.5130" stop-color="#e0a88a"/><stop offset="0.5130" stop-color="#e0a88a"/><stop offset="0.5610" stop-color="#e0a88a"/><stop offset="0.5610" stop-color="#e2b094"/><stop offset="0.6080" stop-color="#e2b094"/><stop offset="0.6080" stop-color="#ecd0c0"/><stop offset="0.9090" stop-color="#ecd0c0"/><stop offset="0.9090" stop-color="#edd3c5"/><stop offset="0.9560" stop-color="#edd3c5"/><stop offset="0.9560" stop-color="#eed6c9"/><stop offset="1.0000" stop-color="#eed6c9"/></linearGradient><linearGradient id="g11" gradientUnits="userSpaceOnUse" x1="0" y1="298.5" x2="0" y2="17.8"><stop offset="0.0000" stop-color="#4fb845"/><stop offset="0.0600" stop-color="#4fb845"/><stop offset="0.0600" stop-color="#d65a22"/><stop offset="0.1150" stop-color="#d65a22"/><stop offset="0.1150" stop-color="#d76630"/><stop offset="0.2370" stop-color="#d76630"/><stop offset="0.2370" stop-color="#d76b34"/><stop offset="0.3520" stop-color="#d76b34"/><stop offset="0.3520" stop-color="#d87c4a"/><stop offset="0.5570" stop-color="#d87c4a"/><stop offset="0.5570" stop-color="#d88a5e"/><stop offset="0.7060" stop-color="#d88a5e"/><stop offset="0.7060" stop-color="#da9268"/><stop offset="0.8550" stop-color="#da9268"/><stop offset="0.8550" stop-color="#dc9c78"/><stop offset="1.0000" stop-color="#dc9c78"/></linearGradient><linearGradient id="g12" gradientUnits="userSpaceOnUse" x1="0" y1="298.5" x2="0" y2="17.8"><stop offset="0.0000" stop-color="#4fb845"/><stop offset="0.0340" stop-color="#4fb845"/><stop offset="0.0340" stop-color="#6fc765"/><stop offset="0.0800" stop-color="#6fc765"/><stop offset="0.0800" stop-color="#d65c22"/><stop offset="0.1830" stop-color="#d65c22"/><stop offset="0.1830" stop-color="#d76a34"/><stop offset="0.2640" stop-color="#d76a34"/><stop offset="0.2640" stop-color="#d8804e"/><stop offset="0.3360" stop-color="#d8804e"/><stop offset="0.3360" stop-color="#da8c66"/><stop offset="0.4400" stop-color="#da8c66"/><stop offset="0.4400" stop-color="#db9470"/><stop offset="0.5440" stop-color="#db9470"/><stop offset="0.5440" stop-color="#dc9a76"/><stop offset="0.6460" stop-color="#dc9a76"/><stop offset="0.6460" stop-color="#ecd3c4"/><stop offset="0.7500" stop-color="#ecd3c4"/><stop offset="0.7500" stop-color="#ecd3c4"/><stop offset="0.8550" stop-color="#ecd3c4"/><stop offset="0.8550" stop-color="#edd6c8"/><stop offset="1.0000" stop-color="#edd6c8"/></linearGradient><linearGradient id="g13" gradientUnits="userSpaceOnUse" x1="0" y1="298.5" x2="0" y2="17.8"><stop offset="0.0000" stop-color="#4fb845"/><stop offset="0.0340" stop-color="#4fb845"/><stop offset="0.0340" stop-color="#d65c22"/><stop offset="0.0680" stop-color="#d65c22"/><stop offset="0.0680" stop-color="#d76a32"/><stop offset="0.1860" stop-color="#d76a32"/><stop offset="0.1860" stop-color="#d8804e"/><stop offset="0.3050" stop-color="#d8804e"/><stop offset="0.3050" stop-color="#da8c64"/><stop offset="0.4200" stop-color="#da8c64"/><stop offset="0.4200" stop-color="#db9670"/><stop offset="0.5170" stop-color="#db9670"/><stop offset="0.5170" stop-color="#dc9a78"/><stop offset="0.5910" stop-color="#dc9a78"/><stop offset="0.5910" stop-color="#dda080"/><stop offset="0.7060" stop-color="#dda080"/><stop offset="0.7060" stop-color="#dea382"/><stop offset="0.8210" stop-color="#dea382"/><stop offset="0.8210" stop-color="#eacbb8"/><stop offset="0.9020" stop-color="#eacbb8"/><stop offset="0.9020" stop-color="#ecd0c0"/><stop offset="1.0000" stop-color="#ecd0c0"/></linearGradient><linearGradient id="g14" gradientUnits="userSpaceOnUse" x1="0" y1="298.5" x2="0" y2="17.8"><stop offset="0.0000" stop-color="#4fb845"/><stop offset="0.0300" stop-color="#4fb845"/><stop offset="0.0300" stop-color="#6fc765"/><stop offset="0.0580" stop-color="#6fc765"/><stop offset="0.0580" stop-color="#d65c22"/><stop offset="0.0860" stop-color="#d65c22"/><stop offset="0.0860" stop-color="#d6652c"/><stop offset="0.1290" stop-color="#d6652c"/><stop offset="0.1290" stop-color="#d76a32"/><stop offset="0.1760" stop-color="#d76a32"/><stop offset="0.1760" stop-color="#d87640"/><stop offset="0.2340" stop-color="#d87640"/><stop offset="0.2340" stop-color="#d98050"/><stop offset="0.2810" stop-color="#d98050"/><stop offset="0.2810" stop-color="#d98456"/><stop offset="0.3320" stop-color="#d98456"/><stop offset="0.3320" stop-color="#da885e"/><stop offset="0.3830" stop-color="#da885e"/><stop offset="0.3830" stop-color="#da8e66"/><stop offset="0.4500" stop-color="#da8e66"/><stop offset="0.4500" stop-color="#db946e"/><stop offset="0.5200" stop-color="#db946e"/><stop offset="0.5200" stop-color="#db946e"/><stop offset="0.5770" stop-color="#db946e"/><stop offset="0.5770" stop-color="#dc9a76"/><stop offset="0.6350" stop-color="#dc9a76"/><stop offset="0.6350" stop-color="#dd9e7c"/><stop offset="0.7020" stop-color="#dd9e7c"/><stop offset="0.7020" stop-color="#dea282"/><stop offset="0.7600" stop-color="#dea282"/><stop offset="0.7600" stop-color="#e4b49a"/><stop offset="0.8070" stop-color="#e4b49a"/><stop offset="0.8070" stop-color="#e6bca4"/><stop offset="0.8450" stop-color="#e6bca4"/><stop offset="0.8450" stop-color="#e9c4ae"/><stop offset="0.8920" stop-color="#e9c4ae"/><stop offset="0.8920" stop-color="#ebcdb9"/><stop offset="0.9490" stop-color="#ebcdb9"/><stop offset="0.9490" stop-color="#eedad0"/><stop offset="1.0000" stop-color="#eedad0"/></linearGradient><linearGradient id="g15" gradientUnits="userSpaceOnUse" x1="0" y1="298.5" x2="0" y2="17.8"><stop offset="0.0000" stop-color="#4fb845"/><stop offset="0.0300" stop-color="#4fb845"/><stop offset="0.0300" stop-color="#6fc765"/><stop offset="0.0610" stop-color="#6fc765"/><stop offset="0.0610" stop-color="#a2dc98"/><stop offset="0.1060" stop-color="#a2dc98"/><stop offset="0.1060" stop-color="#e0a283"/><stop offset="0.1700" stop-color="#e0a283"/><stop offset="0.1700" stop-color="#d65c24"/><stop offset="0.2140" stop-color="#d65c24"/><stop offset="0.2140" stop-color="#d6602a"/><stop offset="0.2570" stop-color="#d6602a"/><stop offset="0.2570" stop-color="#d76a34"/><stop offset="0.3080" stop-color="#d76a34"/><stop offset="0.3080" stop-color="#d7703a"/><stop offset="0.3590" stop-color="#d7703a"/><stop offset="0.3590" stop-color="#d87a45"/><stop offset="0.4100" stop-color="#d87a45"/><stop offset="0.4100" stop-color="#d8804e"/><stop offset="0.4810" stop-color="#d8804e"/><stop offset="0.4810" stop-color="#da9068"/><stop offset="0.5500" stop-color="#da9068"/><stop offset="0.5500" stop-color="#db9670"/><stop offset="0.6210" stop-color="#db9670"/><stop offset="0.6210" stop-color="#dc9c78"/><stop offset="0.7060" stop-color="#dc9c78"/><stop offset="0.7060" stop-color="#dea282"/><stop offset="0.7920" stop-color="#dea282"/><stop offset="0.7920" stop-color="#e6b8a0"/><stop offset="0.8450" stop-color="#e6b8a0"/><stop offset="0.8450" stop-color="#e8c2ac"/><stop offset="0.8920" stop-color="#e8c2ac"/><stop offset="0.8920" stop-color="#ebcfbf"/><stop offset="0.9490" stop-color="#ebcfbf"/><stop offset="0.9490" stop-color="#ecd4c6"/><stop offset="1.0000" stop-color="#ecd4c6"/></linearGradient><linearGradient id="g16" gradientUnits="userSpaceOnUse" x1="0" y1="298.6" x2="0" y2="18"><stop offset="0.0000" stop-color="#6a9bd3"/><stop offset="0.0620" stop-color="#6a9bd3"/><stop offset="0.0620" stop-color="#d65c24"/><stop offset="0.1250" stop-color="#d65c24"/><stop offset="0.1250" stop-color="#db8760"/><stop offset="0.2330" stop-color="#db8760"/><stop offset="0.2330" stop-color="#e5b298"/><stop offset="0.3020" stop-color="#e5b298"/><stop offset="0.3020" stop-color="#e6b49a"/><stop offset="0.4310" stop-color="#e6b49a"/><stop offset="0.4310" stop-color="#e8bca4"/><stop offset="0.5430" stop-color="#e8bca4"/><stop offset="0.5430" stop-color="#eac4ae"/><stop offset="0.6630" stop-color="#eac4ae"/><stop offset="0.6630" stop-color="#ecc8b4"/><stop offset="0.8250" stop-color="#ecc8b4"/><stop offset="0.8250" stop-color="#f2e4dc"/><stop offset="0.9130" stop-color="#f2e4dc"/><stop offset="0.9130" stop-color="#f5efe9"/><stop offset="1.0000" stop-color="#f5efe9"/></linearGradient><linearGradient id="g17" gradientUnits="userSpaceOnUse" x1="0" y1="298.6" x2="0" y2="18"><stop offset="0.0000" stop-color="#6a9bd3"/><stop offset="0.0280" stop-color="#6a9bd3"/><stop offset="0.0280" stop-color="#d65c24"/><stop offset="0.0920" stop-color="#d65c24"/><stop offset="0.0920" stop-color="#d7682f"/><stop offset="0.1370" stop-color="#d7682f"/><stop offset="0.1370" stop-color="#d87444"/><stop offset="0.1870" stop-color="#d87444"/><stop offset="0.1870" stop-color="#d97a48"/><stop offset="0.2450" stop-color="#d97a48"/><stop offset="0.2450" stop-color="#dc9068"/><stop offset="0.2960" stop-color="#dc9068"/><stop offset="0.2960" stop-color="#dd9470"/><stop offset="0.3420" stop-color="#dd9470"/><stop offset="0.3420" stop-color="#de9878"/><stop offset="0.3870" stop-color="#de9878"/><stop offset="0.3870" stop-color="#e2aa8c"/><stop offset="0.4390" stop-color="#e2aa8c"/><stop offset="0.4390" stop-color="#e3ae94"/><stop offset="0.4910" stop-color="#e3ae94"/><stop offset="0.4910" stop-color="#e4b098"/><stop offset="0.5650" stop-color="#e4b098"/><stop offset="0.5650" stop-color="#e7bca4"/><stop offset="0.6190" stop-color="#e7bca4"/><stop offset="0.6190" stop-color="#e9c4b0"/><stop offset="0.6730" stop-color="#e9c4b0"/><stop offset="0.6730" stop-color="#ebcab8"/><stop offset="0.7300" stop-color="#ebcab8"/><stop offset="0.7300" stop-color="#ecd0c0"/><stop offset="0.8010" stop-color="#ecd0c0"/><stop offset="0.8010" stop-color="#eed4c6"/><stop offset="0.8720" stop-color="#eed4c6"/><stop offset="0.8720" stop-color="#eed6c8"/><stop offset="0.9470" stop-color="#eed6c8"/><stop offset="0.9470" stop-color="#f5efe9"/><stop offset="1.0000" stop-color="#f5efe9"/></linearGradient><linearGradient id="g18" gradientUnits="userSpaceOnUse" x1="0" y1="298.6" x2="0" y2="18"><stop offset="0.0000" stop-color="#6a9bd3"/><stop offset="0.0240" stop-color="#6a9bd3"/><stop offset="0.0240" stop-color="#a2c6db"/><stop offset="0.0490" stop-color="#a2c6db"/><stop offset="0.0490" stop-color="#d65c24"/><stop offset="0.1100" stop-color="#d65c24"/><stop offset="0.1100" stop-color="#d66530"/><stop offset="0.1420" stop-color="#d66530"/><stop offset="0.1420" stop-color="#d76a34"/><stop offset="0.1840" stop-color="#d76a34"/><stop offset="0.1840" stop-color="#d7703c"/><stop offset="0.2280" stop-color="#d7703c"/><stop offset="0.2280" stop-color="#d87442"/><stop offset="0.2700" stop-color="#d87442"/><stop offset="0.2700" stop-color="#d87a46"/><stop offset="0.3120" stop-color="#d87a46"/><stop offset="0.3120" stop-color="#d8804e"/><stop offset="0.3730" stop-color="#d8804e"/><stop offset="0.3730" stop-color="#d98a60"/><stop offset="0.4170" stop-color="#d98a60"/><stop offset="0.4170" stop-color="#da8c62"/><stop offset="0.4610" stop-color="#da8c62"/><stop offset="0.4610" stop-color="#da9068"/><stop offset="0.5070" stop-color="#da9068"/><stop offset="0.5070" stop-color="#dc9670"/><stop offset="0.5950" stop-color="#dc9670"/><stop offset="0.5950" stop-color="#e0a888"/><stop offset="0.6260" stop-color="#e0a888"/><stop offset="0.6260" stop-color="#e4b69c"/><stop offset="0.6630" stop-color="#e4b69c"/><stop offset="0.6630" stop-color="#e6bea6"/><stop offset="0.7030" stop-color="#e6bea6"/><stop offset="0.7030" stop-color="#e8c4b0"/><stop offset="0.7400" stop-color="#e8c4b0"/><stop offset="0.7400" stop-color="#eacab8"/><stop offset="0.7810" stop-color="#eacab8"/><stop offset="0.7810" stop-color="#ebcfbf"/><stop offset="0.8350" stop-color="#ebcfbf"/><stop offset="0.8350" stop-color="#ecd3c4"/><stop offset="0.8890" stop-color="#ecd3c4"/><stop offset="0.8890" stop-color="#edd6c8"/><stop offset="0.9430" stop-color="#edd6c8"/><stop offset="0.9430" stop-color="#eed8cc"/><stop offset="1.0000" stop-color="#eed8cc"/></linearGradient><linearGradient id="g19" gradientUnits="userSpaceOnUse" x1="0" y1="298.6" x2="0" y2="18"><stop offset="0.0000" stop-color="#6a9bd3"/><stop offset="0.0410" stop-color="#6a9bd3"/><stop offset="0.0410" stop-color="#a2c6db"/><stop offset="0.0930" stop-color="#a2c6db"/><stop offset="0.0930" stop-color="#d65c24"/><stop offset="0.2040" stop-color="#d65c24"/><stop offset="0.2040" stop-color="#d77040"/><stop offset="0.2790" stop-color="#d77040"/><stop offset="0.2790" stop-color="#d8784a"/><stop offset="0.3670" stop-color="#d8784a"/><stop offset="0.3670" stop-color="#dc8c66"/><stop offset="0.4500" stop-color="#dc8c66"/><stop offset="0.4500" stop-color="#e3ac8e"/><stop offset="0.5140" stop-color="#e3ac8e"/><stop offset="0.5140" stop-color="#e6b69c"/><stop offset="0.5920" stop-color="#e6b69c"/><stop offset="0.5920" stop-color="#e8c0a8"/><stop offset="0.6730" stop-color="#e8c0a8"/><stop offset="0.6730" stop-color="#eac8b2"/><stop offset="0.7710" stop-color="#eac8b2"/><stop offset="0.7710" stop-color="#ecceba"/><stop offset="0.8720" stop-color="#ecceba"/><stop offset="0.8720" stop-color="#edd4c4"/><stop offset="0.9690" stop-color="#edd4c4"/><stop offset="0.9690" stop-color="#f2e4dc"/><stop offset="1.0000" stop-color="#f2e4dc"/></linearGradient><linearGradient id="g20" gradientUnits="userSpaceOnUse" x1="0" y1="298.6" x2="0" y2="18"><stop offset="0.0000" stop-color="#6a9bd3"/><stop offset="0.0240" stop-color="#6a9bd3"/><stop offset="0.0240" stop-color="#d65c24"/><stop offset="0.0520" stop-color="#d65c24"/><stop offset="0.0520" stop-color="#d7682f"/><stop offset="0.0860" stop-color="#d7682f"/><stop offset="0.0860" stop-color="#d87644"/><stop offset="0.1300" stop-color="#d87644"/><stop offset="0.1300" stop-color="#da8a60"/><stop offset="0.1770" stop-color="#da8a60"/><stop offset="0.1770" stop-color="#e2ac90"/><stop offset="0.2040" stop-color="#e2ac90"/><stop offset="0.2040" stop-color="#e4b49a"/><stop offset="0.2520" stop-color="#e4b49a"/><stop offset="0.2520" stop-color="#e6bca4"/><stop offset="0.2990" stop-color="#e6bca4"/><stop offset="0.2990" stop-color="#e8c4ae"/><stop offset="0.3500" stop-color="#e8c4ae"/><stop offset="0.3500" stop-color="#e9c8b6"/><stop offset="0.4040" stop-color="#e9c8b6"/><stop offset="0.4040" stop-color="#eacebe"/><stop offset="0.4680" stop-color="#eacebe"/><stop offset="0.4680" stop-color="#ecd2c4"/><stop offset="0.5310" stop-color="#ecd2c4"/><stop offset="0.5310" stop-color="#edd6ca"/><stop offset="0.5920" stop-color="#edd6ca"/><stop offset="0.5920" stop-color="#eedad0"/><stop offset="0.6610" stop-color="#eedad0"/><stop offset="0.6610" stop-color="#f0e0d6"/><stop offset="0.7130" stop-color="#f0e0d6"/><stop offset="0.7130" stop-color="#f1e3da"/><stop offset="0.7640" stop-color="#f1e3da"/><stop offset="0.7640" stop-color="#f2e6de"/><stop offset="0.8150" stop-color="#f2e6de"/><stop offset="0.8150" stop-color="#f3e8e0"/><stop offset="0.8650" stop-color="#f3e8e0"/><stop offset="0.8650" stop-color="#f3eae4"/><stop offset="0.9090" stop-color="#f3eae4"/><stop offset="0.9090" stop-color="#f3ebe6"/><stop offset="0.9500" stop-color="#f3ebe6"/><stop offset="0.9500" stop-color="#f4ede9"/><stop offset="1.0000" stop-color="#f4ede9"/></linearGradient><linearGradient id="g21" gradientUnits="userSpaceOnUse" x1="0" y1="298.6" x2="0" y2="18"><stop offset="0.0000" stop-color="#6a9bd3"/><stop offset="0.0330" stop-color="#6a9bd3"/><stop offset="0.0330" stop-color="#d65c24"/><stop offset="0.0860" stop-color="#d65c24"/><stop offset="0.0860" stop-color="#d66230"/><stop offset="0.1570" stop-color="#d66230"/><stop offset="0.1570" stop-color="#d77040"/><stop offset="0.2520" stop-color="#d77040"/><stop offset="0.2520" stop-color="#d87644"/><stop offset="0.3090" stop-color="#d87644"/><stop offset="0.3090" stop-color="#d87a48"/><stop offset="0.3800" stop-color="#d87a48"/><stop offset="0.3800" stop-color="#d88050"/><stop offset="0.4480" stop-color="#d88050"/><stop offset="0.4480" stop-color="#d98456"/><stop offset="0.5140" stop-color="#d98456"/><stop offset="0.5140" stop-color="#e2ac90"/><stop offset="0.5530" stop-color="#e2ac90"/><stop offset="0.5530" stop-color="#e3b096"/><stop offset="0.6150" stop-color="#e3b096"/><stop offset="0.6150" stop-color="#e4b69c"/><stop offset="0.6830" stop-color="#e4b69c"/><stop offset="0.6830" stop-color="#e6bca4"/><stop offset="0.7440" stop-color="#e6bca4"/><stop offset="0.7440" stop-color="#e6c0a8"/><stop offset="0.8050" stop-color="#e6c0a8"/><stop offset="0.8050" stop-color="#e8c4ae"/><stop offset="0.8690" stop-color="#e8c4ae"/><stop offset="0.8690" stop-color="#ebcfbf"/><stop offset="0.9330" stop-color="#ebcfbf"/><stop offset="0.9330" stop-color="#ecd3c4"/><stop offset="1.0000" stop-color="#ecd3c4"/></linearGradient><linearGradient id="g22" gradientUnits="userSpaceOnUse" x1="0" y1="298.6" x2="0" y2="18"><stop offset="0.0000" stop-color="#6a9bd3"/><stop offset="0.0250" stop-color="#6a9bd3"/><stop offset="0.0250" stop-color="#a2c6db"/><stop offset="0.0520" stop-color="#a2c6db"/><stop offset="0.0520" stop-color="#d6622a"/><stop offset="0.1200" stop-color="#d6622a"/><stop offset="0.1200" stop-color="#d8763f"/><stop offset="0.1890" stop-color="#d8763f"/><stop offset="0.1890" stop-color="#d87a48"/><stop offset="0.2350" stop-color="#d87a48"/><stop offset="0.2350" stop-color="#d88050"/><stop offset="0.2890" stop-color="#d88050"/><stop offset="0.2890" stop-color="#d98456"/><stop offset="0.3360" stop-color="#d98456"/><stop offset="0.3360" stop-color="#da885e"/><stop offset="0.3730" stop-color="#da885e"/><stop offset="0.3730" stop-color="#db8c64"/><stop offset="0.4140" stop-color="#db8c64"/><stop offset="0.4140" stop-color="#dc9068"/><stop offset="0.4640" stop-color="#dc9068"/><stop offset="0.4640" stop-color="#e2aa8c"/><stop offset="0.5050" stop-color="#e2aa8c"/><stop offset="0.5050" stop-color="#e4b49a"/><stop offset="0.5340" stop-color="#e4b49a"/><stop offset="0.5340" stop-color="#e6bca4"/><stop offset="0.5750" stop-color="#e6bca4"/><stop offset="0.5750" stop-color="#e8c2ac"/><stop offset="0.6320" stop-color="#e8c2ac"/><stop offset="0.6320" stop-color="#e9c6b2"/><stop offset="0.6900" stop-color="#e9c6b2"/><stop offset="0.6900" stop-color="#eacab8"/><stop offset="0.7470" stop-color="#eacab8"/><stop offset="0.7470" stop-color="#ebd0c0"/><stop offset="0.8010" stop-color="#ebd0c0"/><stop offset="0.8010" stop-color="#edd6ca"/><stop offset="0.8520" stop-color="#edd6ca"/><stop offset="0.8520" stop-color="#f0e0d6"/><stop offset="0.9330" stop-color="#f0e0d6"/><stop offset="0.9330" stop-color="#f3e8e0"/><stop offset="1.0000" stop-color="#f3e8e0"/></linearGradient><linearGradient id="g23" gradientUnits="userSpaceOnUse" x1="0" y1="298.6" x2="0" y2="18"><stop offset="0.0000" stop-color="#6a9bd3"/><stop offset="0.0560" stop-color="#6a9bd3"/><stop offset="0.0560" stop-color="#a2c6db"/><stop offset="0.1230" stop-color="#a2c6db"/><stop offset="0.1230" stop-color="#d65c24"/><stop offset="0.1980" stop-color="#d65c24"/><stop offset="0.1980" stop-color="#d87040"/><stop offset="0.2790" stop-color="#d87040"/><stop offset="0.2790" stop-color="#d8784a"/><stop offset="0.3970" stop-color="#d8784a"/><stop offset="0.3970" stop-color="#d98a5e"/><stop offset="0.5040" stop-color="#d98a5e"/><stop offset="0.5040" stop-color="#e2aa8c"/><stop offset="0.5610" stop-color="#e2aa8c"/><stop offset="0.5610" stop-color="#e6bca4"/><stop offset="0.6360" stop-color="#e6bca4"/><stop offset="0.6360" stop-color="#e8c4b0"/><stop offset="0.7340" stop-color="#e8c4b0"/><stop offset="0.7340" stop-color="#eacab8"/><stop offset="0.8550" stop-color="#eacab8"/><stop offset="0.8550" stop-color="#ecd2c4"/><stop offset="1.0000" stop-color="#ecd2c4"/></linearGradient><linearGradient id="g24" gradientUnits="userSpaceOnUse" x1="0" y1="667.4" x2="0" y2="386.4"><stop offset="0.0000" stop-color="#70b5b5"/><stop offset="0.0520" stop-color="#70b5b5"/><stop offset="0.0520" stop-color="#e55b22"/><stop offset="0.1060" stop-color="#e55b22"/><stop offset="0.1060" stop-color="#e8802c"/><stop offset="0.1720" stop-color="#e8802c"/><stop offset="0.1720" stop-color="#e89850"/><stop offset="0.2620" stop-color="#e89850"/><stop offset="0.2620" stop-color="#eec097"/><stop offset="0.3820" stop-color="#eec097"/><stop offset="0.3820" stop-color="#f0d0b0"/><stop offset="0.5130" stop-color="#f0d0b0"/><stop offset="0.5130" stop-color="#e69545"/><stop offset="0.6580" stop-color="#e69545"/><stop offset="0.6580" stop-color="#e8b070"/><stop offset="0.8160" stop-color="#e8b070"/><stop offset="0.8160" stop-color="#eecb98"/><stop offset="1.0000" stop-color="#eecb98"/></linearGradient><linearGradient id="g25" gradientUnits="userSpaceOnUse" x1="0" y1="667.4" x2="0" y2="386.4"><stop offset="0.0000" stop-color="#70b5b5"/><stop offset="0.0450" stop-color="#70b5b5"/><stop offset="0.0450" stop-color="#e55b22"/><stop offset="0.1140" stop-color="#e55b22"/><stop offset="0.1140" stop-color="#ecbc88"/><stop offset="0.1920" stop-color="#ecbc88"/><stop offset="0.1920" stop-color="#efcca2"/><stop offset="0.3160" stop-color="#efcca2"/><stop offset="0.3160" stop-color="#e69545"/><stop offset="0.4310" stop-color="#e69545"/><stop offset="0.4310" stop-color="#e8b070"/><stop offset="0.5440" stop-color="#e8b070"/><stop offset="0.5440" stop-color="#eecb98"/><stop offset="0.6390" stop-color="#eecb98"/><stop offset="0.6390" stop-color="#f2dcc0"/><stop offset="0.7130" stop-color="#f2dcc0"/><stop offset="0.7130" stop-color="#f7efe0"/><stop offset="0.8320" stop-color="#f7efe0"/><stop offset="0.8320" stop-color="#fbf6ef"/><stop offset="0.8800" stop-color="#fbf6ef"/><stop offset="0.8800" stop-color="#f8f0e6"/><stop offset="1.0000" stop-color="#f8f0e6"/></linearGradient><linearGradient id="g26" gradientUnits="userSpaceOnUse" x1="0" y1="667.4" x2="0" y2="386.4"><stop offset="0.0000" stop-color="#70b5b5"/><stop offset="0.0580" stop-color="#70b5b5"/><stop offset="0.0580" stop-color="#e55b22"/><stop offset="0.1340" stop-color="#e55b22"/><stop offset="0.1340" stop-color="#e8802c"/><stop offset="0.1900" stop-color="#e8802c"/><stop offset="0.1900" stop-color="#e89850"/><stop offset="0.2890" stop-color="#e89850"/><stop offset="0.2890" stop-color="#eec898"/><stop offset="0.4060" stop-color="#eec898"/><stop offset="0.4060" stop-color="#f2dcc0"/><stop offset="0.4710" stop-color="#f2dcc0"/><stop offset="0.4710" stop-color="#e69545"/><stop offset="0.5750" stop-color="#e69545"/><stop offset="0.5750" stop-color="#e8b070"/><stop offset="0.6850" stop-color="#e8b070"/><stop offset="0.6850" stop-color="#eecb98"/><stop offset="0.8360" stop-color="#eecb98"/><stop offset="0.8360" stop-color="#f3e0d0"/><stop offset="0.9170" stop-color="#f3e0d0"/><stop offset="0.9170" stop-color="#f8f0e6"/><stop offset="1.0000" stop-color="#f8f0e6"/></linearGradient><linearGradient id="g27" gradientUnits="userSpaceOnUse" x1="0" y1="667.4" x2="0" y2="386.4"><stop offset="0.0000" stop-color="#70b5b5"/><stop offset="0.0350" stop-color="#70b5b5"/><stop offset="0.0350" stop-color="#e55b22"/><stop offset="0.0800" stop-color="#e55b22"/><stop offset="0.0800" stop-color="#e88a5a"/><stop offset="0.1430" stop-color="#e88a5a"/><stop offset="0.1430" stop-color="#e8a47a"/><stop offset="0.1950" stop-color="#e8a47a"/><stop offset="0.1950" stop-color="#e8802c"/><stop offset="0.2340" stop-color="#e8802c"/><stop offset="0.2340" stop-color="#e89850"/><stop offset="0.2800" stop-color="#e89850"/><stop offset="0.2800" stop-color="#ecbc88"/><stop offset="0.3420" stop-color="#ecbc88"/><stop offset="0.3420" stop-color="#e69545"/><stop offset="0.4210" stop-color="#e69545"/><stop offset="0.4210" stop-color="#e8b070"/><stop offset="0.4900" stop-color="#e8b070"/><stop offset="0.4900" stop-color="#eecb98"/><stop offset="0.5500" stop-color="#eecb98"/><stop offset="0.5500" stop-color="#f2dcc0"/><stop offset="0.6190" stop-color="#f2dcc0"/><stop offset="0.6190" stop-color="#f7efe0"/><stop offset="0.6980" stop-color="#f7efe0"/><stop offset="0.6980" stop-color="#e8b070"/><stop offset="0.7910" stop-color="#e8b070"/><stop offset="0.7910" stop-color="#ecbc88"/><stop offset="0.8520" stop-color="#ecbc88"/><stop offset="0.8520" stop-color="#eecb98"/><stop offset="0.9310" stop-color="#eecb98"/><stop offset="0.9310" stop-color="#f8f0e6"/><stop offset="1.0000" stop-color="#f8f0e6"/></linearGradient><linearGradient id="g28" gradientUnits="userSpaceOnUse" x1="0" y1="667.4" x2="0" y2="386.4"><stop offset="0.0000" stop-color="#70b5b5"/><stop offset="0.0460" stop-color="#70b5b5"/><stop offset="0.0460" stop-color="#e55b22"/><stop offset="0.1470" stop-color="#e55b22"/><stop offset="0.1470" stop-color="#e8802c"/><stop offset="0.2300" stop-color="#e8802c"/><stop offset="0.2300" stop-color="#e89650"/><stop offset="0.3340" stop-color="#e89650"/><stop offset="0.3340" stop-color="#e69545"/><stop offset="0.5170" stop-color="#e69545"/><stop offset="0.5170" stop-color="#e8b070"/><stop offset="0.6780" stop-color="#e8b070"/><stop offset="0.6780" stop-color="#eecb98"/><stop offset="0.8620" stop-color="#eecb98"/><stop offset="0.8620" stop-color="#f5e6d8"/><stop offset="1.0000" stop-color="#f5e6d8"/></linearGradient><linearGradient id="g29" gradientUnits="userSpaceOnUse" x1="0" y1="667.4" x2="0" y2="386.4"><stop offset="0.0000" stop-color="#70b5b5"/><stop offset="0.0480" stop-color="#70b5b5"/><stop offset="0.0480" stop-color="#e55b22"/><stop offset="0.1000" stop-color="#e55b22"/><stop offset="0.1000" stop-color="#e8802c"/><stop offset="0.2510" stop-color="#e8802c"/><stop offset="0.2510" stop-color="#e89850"/><stop offset="0.3990" stop-color="#e89850"/><stop offset="0.3990" stop-color="#eec898"/><stop offset="0.5500" stop-color="#eec898"/><stop offset="0.5500" stop-color="#e69545"/><stop offset="0.6980" stop-color="#e69545"/><stop offset="0.6980" stop-color="#e8b070"/><stop offset="0.8480" stop-color="#e8b070"/><stop offset="0.8480" stop-color="#f5e6d8"/><stop offset="1.0000" stop-color="#f5e6d8"/></linearGradient><linearGradient id="g30" gradientUnits="userSpaceOnUse" x1="0" y1="667.4" x2="0" y2="386.4"><stop offset="0.0000" stop-color="#70b5b5"/><stop offset="0.0260" stop-color="#70b5b5"/><stop offset="0.0260" stop-color="#e55b22"/><stop offset="0.0550" stop-color="#e55b22"/><stop offset="0.0550" stop-color="#e88a5a"/><stop offset="0.0820" stop-color="#e88a5a"/><stop offset="0.0820" stop-color="#e8802c"/><stop offset="0.1200" stop-color="#e8802c"/><stop offset="0.1200" stop-color="#e89850"/><stop offset="0.1650" stop-color="#e89850"/><stop offset="0.1650" stop-color="#efcca2"/><stop offset="0.2140" stop-color="#efcca2"/><stop offset="0.2140" stop-color="#f2dcc0"/><stop offset="0.2610" stop-color="#f2dcc0"/><stop offset="0.2610" stop-color="#f5e6d8"/><stop offset="0.3050" stop-color="#f5e6d8"/><stop offset="0.3050" stop-color="#e69545"/><stop offset="0.3500" stop-color="#e69545"/><stop offset="0.3500" stop-color="#e8a050"/><stop offset="0.4100" stop-color="#e8a050"/><stop offset="0.4100" stop-color="#e8b070"/><stop offset="0.4750" stop-color="#e8b070"/><stop offset="0.4750" stop-color="#eecb98"/><stop offset="0.5260" stop-color="#eecb98"/><stop offset="0.5260" stop-color="#f3e0c4"/><stop offset="0.5780" stop-color="#f3e0c4"/><stop offset="0.5780" stop-color="#f7efe0"/><stop offset="0.6430" stop-color="#f7efe0"/><stop offset="0.6430" stop-color="#e8b070"/><stop offset="0.6970" stop-color="#e8b070"/><stop offset="0.6970" stop-color="#fbf6ef"/><stop offset="0.7390" stop-color="#fbf6ef"/><stop offset="0.7390" stop-color="#f0d4b8"/><stop offset="0.7720" stop-color="#f0d4b8"/><stop offset="0.7720" stop-color="#f2dcc4"/><stop offset="0.8160" stop-color="#f2dcc4"/><stop offset="0.8160" stop-color="#f3e0cc"/><stop offset="0.8670" stop-color="#f3e0cc"/><stop offset="0.8670" stop-color="#f5e6d6"/><stop offset="0.9530" stop-color="#f5e6d6"/><stop offset="0.9530" stop-color="#f8f0e8"/><stop offset="1.0000" stop-color="#f8f0e8"/></linearGradient><linearGradient id="g31" gradientUnits="userSpaceOnUse" x1="0" y1="667.4" x2="0" y2="386.4"><stop offset="0.0000" stop-color="#70b5b5"/><stop offset="0.0530" stop-color="#70b5b5"/><stop offset="0.0530" stop-color="#e55b22"/><stop offset="0.1240" stop-color="#e55b22"/><stop offset="0.1240" stop-color="#e88a5a"/><stop offset="0.1960" stop-color="#e88a5a"/><stop offset="0.1960" stop-color="#e8802c"/><stop offset="0.2690" stop-color="#e8802c"/><stop offset="0.2690" stop-color="#e89850"/><stop offset="0.3570" stop-color="#e89850"/><stop offset="0.3570" stop-color="#efcca2"/><stop offset="0.4280" stop-color="#efcca2"/><stop offset="0.4280" stop-color="#e69545"/><stop offset="0.5800" stop-color="#e69545"/><stop offset="0.5800" stop-color="#e8b070"/><stop offset="0.7040" stop-color="#e8b070"/><stop offset="0.7040" stop-color="#eecb98"/><stop offset="0.8210" stop-color="#eecb98"/><stop offset="0.8210" stop-color="#f2dcc0"/><stop offset="0.8930" stop-color="#f2dcc0"/><stop offset="0.8930" stop-color="#f7efe0"/><stop offset="1.0000" stop-color="#f7efe0"/></linearGradient><linearGradient id="g32" gradientUnits="userSpaceOnUse" x1="0" y1="667.4" x2="0" y2="386.4"><stop offset="0.0000" stop-color="#70b5b5"/><stop offset="0.0600" stop-color="#70b5b5"/><stop offset="0.0600" stop-color="#e55b22"/><stop offset="0.1410" stop-color="#e55b22"/><stop offset="0.1410" stop-color="#e8802c"/><stop offset="0.2610" stop-color="#e8802c"/><stop offset="0.2610" stop-color="#efcca2"/><stop offset="0.4800" stop-color="#efcca2"/><stop offset="0.4800" stop-color="#e69545"/><stop offset="0.6390" stop-color="#e69545"/><stop offset="0.6390" stop-color="#e8b070"/><stop offset="0.8200" stop-color="#e8b070"/><stop offset="0.8200" stop-color="#eecb98"/><stop offset="1.0000" stop-color="#eecb98"/></linearGradient><linearGradient id="g33" gradientUnits="userSpaceOnUse" x1="0" y1="667.4" x2="0" y2="386.4"><stop offset="0.0000" stop-color="#70b5b5"/><stop offset="0.0310" stop-color="#70b5b5"/><stop offset="0.0310" stop-color="#a8d7d7"/><stop offset="0.2350" stop-color="#a8d7d7"/><stop offset="0.2350" stop-color="#e55b22"/><stop offset="0.4100" stop-color="#e55b22"/><stop offset="0.4100" stop-color="#e8802c"/><stop offset="0.5300" stop-color="#e8802c"/><stop offset="0.5300" stop-color="#e8964e"/><stop offset="0.6460" stop-color="#e8964e"/><stop offset="0.6460" stop-color="#e8b070"/><stop offset="0.8230" stop-color="#e8b070"/><stop offset="0.8230" stop-color="#eecb98"/><stop offset="1.0000" stop-color="#eecb98"/></linearGradient><linearGradient id="g34" gradientUnits="userSpaceOnUse" x1="0" y1="667.4" x2="0" y2="386.4"><stop offset="0.0000" stop-color="#70b5b5"/><stop offset="0.0410" stop-color="#70b5b5"/><stop offset="0.0410" stop-color="#e55b22"/><stop offset="0.1360" stop-color="#e55b22"/><stop offset="0.1360" stop-color="#e88a5a"/><stop offset="0.2610" stop-color="#e88a5a"/><stop offset="0.2610" stop-color="#e8802c"/><stop offset="0.3340" stop-color="#e8802c"/><stop offset="0.3340" stop-color="#e89850"/><stop offset="0.4260" stop-color="#e89850"/><stop offset="0.4260" stop-color="#efcca2"/><stop offset="0.5210" stop-color="#efcca2"/><stop offset="0.5210" stop-color="#e69545"/><stop offset="0.6860" stop-color="#e69545"/><stop offset="0.6860" stop-color="#e8b070"/><stop offset="0.8520" stop-color="#e8b070"/><stop offset="0.8520" stop-color="#eecb98"/><stop offset="1.0000" stop-color="#eecb98"/></linearGradient><linearGradient id="g35" gradientUnits="userSpaceOnUse" x1="0" y1="667.4" x2="0" y2="386.4"><stop offset="0.0000" stop-color="#70b5b5"/><stop offset="0.0300" stop-color="#70b5b5"/><stop offset="0.0300" stop-color="#e55b22"/><stop offset="0.1040" stop-color="#e55b22"/><stop offset="0.1040" stop-color="#e88a5a"/><stop offset="0.1860" stop-color="#e88a5a"/><stop offset="0.1860" stop-color="#e8802c"/><stop offset="0.2820" stop-color="#e8802c"/><stop offset="0.2820" stop-color="#e89850"/><stop offset="0.3360" stop-color="#e89850"/><stop offset="0.3360" stop-color="#efcca2"/><stop offset="0.4330" stop-color="#efcca2"/><stop offset="0.4330" stop-color="#e69545"/><stop offset="0.5820" stop-color="#e69545"/><stop offset="0.5820" stop-color="#e8b070"/><stop offset="0.6780" stop-color="#e8b070"/><stop offset="0.6780" stop-color="#eecb98"/><stop offset="0.7760" stop-color="#eecb98"/><stop offset="0.7760" stop-color="#f2dcc0"/><stop offset="0.8800" stop-color="#f2dcc0"/><stop offset="0.8800" stop-color="#f7efe0"/><stop offset="1.0000" stop-color="#f7efe0"/></linearGradient><linearGradient id="g36" gradientUnits="userSpaceOnUse" x1="0" y1="667.4" x2="0" y2="386.4"><stop offset="0.0000" stop-color="#70b5b5"/><stop offset="0.0410" stop-color="#70b5b5"/><stop offset="0.0410" stop-color="#e55b22"/><stop offset="0.1360" stop-color="#e55b22"/><stop offset="0.1360" stop-color="#e88a5a"/><stop offset="0.2610" stop-color="#e88a5a"/><stop offset="0.2610" stop-color="#e8802c"/><stop offset="0.3320" stop-color="#e8802c"/><stop offset="0.3320" stop-color="#e89850"/><stop offset="0.4260" stop-color="#e89850"/><stop offset="0.4260" stop-color="#efcca2"/><stop offset="0.5210" stop-color="#efcca2"/><stop offset="0.5210" stop-color="#e69545"/><stop offset="0.6860" stop-color="#e69545"/><stop offset="0.6860" stop-color="#e8b070"/><stop offset="0.8330" stop-color="#e8b070"/><stop offset="0.8330" stop-color="#eecb98"/><stop offset="1.0000" stop-color="#eecb98"/></linearGradient><linearGradient id="g37" gradientUnits="userSpaceOnUse" x1="0" y1="667.4" x2="0" y2="386.4"><stop offset="0.0000" stop-color="#70b5b5"/><stop offset="0.0330" stop-color="#70b5b5"/><stop offset="0.0330" stop-color="#e55b22"/><stop offset="0.0730" stop-color="#e55b22"/><stop offset="0.0730" stop-color="#e88a5a"/><stop offset="0.1190" stop-color="#e88a5a"/><stop offset="0.1190" stop-color="#e8a47a"/><stop offset="0.1700" stop-color="#e8a47a"/><stop offset="0.1700" stop-color="#e8802c"/><stop offset="0.2510" stop-color="#e8802c"/><stop offset="0.2510" stop-color="#e89850"/><stop offset="0.3320" stop-color="#e89850"/><stop offset="0.3320" stop-color="#ecbc88"/><stop offset="0.4080" stop-color="#ecbc88"/><stop offset="0.4080" stop-color="#efcca2"/><stop offset="0.5130" stop-color="#efcca2"/><stop offset="0.5130" stop-color="#e8b070"/><stop offset="0.5750" stop-color="#e8b070"/><stop offset="0.5750" stop-color="#eecb98"/><stop offset="0.6390" stop-color="#eecb98"/><stop offset="0.6390" stop-color="#f2dcc0"/><stop offset="0.6930" stop-color="#f2dcc0"/><stop offset="0.6930" stop-color="#f7efe0"/><stop offset="0.7470" stop-color="#f7efe0"/><stop offset="0.7470" stop-color="#e8b070"/><stop offset="0.8410" stop-color="#e8b070"/><stop offset="0.8410" stop-color="#ecbc88"/><stop offset="0.9360" stop-color="#ecbc88"/><stop offset="0.9360" stop-color="#eecb98"/><stop offset="1.0000" stop-color="#eecb98"/></linearGradient><linearGradient id="g38" gradientUnits="userSpaceOnUse" x1="0" y1="667.4" x2="0" y2="386.4"><stop offset="0.0000" stop-color="#70b5b5"/><stop offset="0.0260" stop-color="#70b5b5"/><stop offset="0.0260" stop-color="#a8d7d7"/><stop offset="0.0790" stop-color="#a8d7d7"/><stop offset="0.0790" stop-color="#e55b22"/><stop offset="0.1090" stop-color="#e55b22"/><stop offset="0.1090" stop-color="#e88a5a"/><stop offset="0.1510" stop-color="#e88a5a"/><stop offset="0.1510" stop-color="#e8802c"/><stop offset="0.1960" stop-color="#e8802c"/><stop offset="0.1960" stop-color="#e89850"/><stop offset="0.2440" stop-color="#e89850"/><stop offset="0.2440" stop-color="#e8a050"/><stop offset="0.3200" stop-color="#e8a050"/><stop offset="0.3200" stop-color="#e8b070"/><stop offset="0.3960" stop-color="#e8b070"/><stop offset="0.3960" stop-color="#ecbc88"/><stop offset="0.4440" stop-color="#ecbc88"/><stop offset="0.4440" stop-color="#efcca2"/><stop offset="0.5130" stop-color="#efcca2"/><stop offset="0.5130" stop-color="#e8b070"/><stop offset="0.5890" stop-color="#e8b070"/><stop offset="0.5890" stop-color="#eecb98"/><stop offset="0.6630" stop-color="#eecb98"/><stop offset="0.6630" stop-color="#f2dcc0"/><stop offset="0.7350" stop-color="#f2dcc0"/><stop offset="0.7350" stop-color="#f7efe0"/><stop offset="0.8060" stop-color="#f7efe0"/><stop offset="0.8060" stop-color="#e8b070"/><stop offset="0.8520" stop-color="#e8b070"/><stop offset="0.8520" stop-color="#ecbc88"/><stop offset="0.9020" stop-color="#ecbc88"/><stop offset="0.9020" stop-color="#fbf6ef"/><stop offset="0.9490" stop-color="#fbf6ef"/><stop offset="0.9490" stop-color="#f2d8c0"/><stop offset="1.0000" stop-color="#f2d8c0"/></linearGradient><linearGradient id="g39" gradientUnits="userSpaceOnUse" x1="0" y1="667.4" x2="0" y2="386.4"><stop offset="0.0000" stop-color="#70b5b5"/><stop offset="0.0410" stop-color="#70b5b5"/><stop offset="0.0410" stop-color="#a8d7d7"/><stop offset="0.1040" stop-color="#a8d7d7"/><stop offset="0.1040" stop-color="#e55b22"/><stop offset="0.1540" stop-color="#e55b22"/><stop offset="0.1540" stop-color="#e88a5a"/><stop offset="0.2340" stop-color="#e88a5a"/><stop offset="0.2340" stop-color="#e8a47a"/><stop offset="0.3360" stop-color="#e8a47a"/><stop offset="0.3360" stop-color="#ecbc88"/><stop offset="0.4150" stop-color="#ecbc88"/><stop offset="0.4150" stop-color="#efcca2"/><stop offset="0.5440" stop-color="#efcca2"/><stop offset="0.5440" stop-color="#e69545"/><stop offset="0.6490" stop-color="#e69545"/><stop offset="0.6490" stop-color="#e8b070"/><stop offset="0.7000" stop-color="#e8b070"/><stop offset="0.7000" stop-color="#eecb98"/><stop offset="0.7640" stop-color="#eecb98"/><stop offset="0.7640" stop-color="#f2dcc0"/><stop offset="0.8280" stop-color="#f2dcc0"/><stop offset="0.8280" stop-color="#f7efe0"/><stop offset="0.8930" stop-color="#f7efe0"/><stop offset="0.8930" stop-color="#f5e6d8"/><stop offset="1.0000" stop-color="#f5e6d8"/></linearGradient><linearGradient id="g40" gradientUnits="userSpaceOnUse" x1="0" y1="667.4" x2="0" y2="386.4"><stop offset="0.0000" stop-color="#70b5b5"/><stop offset="0.0340" stop-color="#70b5b5"/><stop offset="0.0340" stop-color="#a8d7d7"/><stop offset="0.0740" stop-color="#a8d7d7"/><stop offset="0.0740" stop-color="#e55b22"/><stop offset="0.1130" stop-color="#e55b22"/><stop offset="0.1130" stop-color="#e88a5a"/><stop offset="0.1570" stop-color="#e88a5a"/><stop offset="0.1570" stop-color="#e8802c"/><stop offset="0.1940" stop-color="#e8802c"/><stop offset="0.1940" stop-color="#e89850"/><stop offset="0.2290" stop-color="#e89850"/><stop offset="0.2290" stop-color="#e8a050"/><stop offset="0.2690" stop-color="#e8a050"/><stop offset="0.2690" stop-color="#e8b070"/><stop offset="0.3250" stop-color="#e8b070"/><stop offset="0.3250" stop-color="#ecbc88"/><stop offset="0.3750" stop-color="#ecbc88"/><stop offset="0.3750" stop-color="#efcca2"/><stop offset="0.4130" stop-color="#efcca2"/><stop offset="0.4130" stop-color="#e8b070"/><stop offset="0.4580" stop-color="#e8b070"/><stop offset="0.4580" stop-color="#eecb98"/><stop offset="0.5110" stop-color="#eecb98"/><stop offset="0.5110" stop-color="#f2dcc0"/><stop offset="0.5670" stop-color="#f2dcc0"/><stop offset="0.5670" stop-color="#f7efe0"/><stop offset="0.6250" stop-color="#f7efe0"/><stop offset="0.6250" stop-color="#e8b070"/><stop offset="0.6820" stop-color="#e8b070"/><stop offset="0.6820" stop-color="#ecbc88"/><stop offset="0.7390" stop-color="#ecbc88"/><stop offset="0.7390" stop-color="#eecb98"/><stop offset="0.8000" stop-color="#eecb98"/><stop offset="0.8000" stop-color="#f0d4b0"/><stop offset="0.8600" stop-color="#f0d4b0"/><stop offset="0.8600" stop-color="#f2dcc0"/><stop offset="0.9200" stop-color="#f2dcc0"/><stop offset="0.9200" stop-color="#f5e6d8"/><stop offset="1.0000" stop-color="#f5e6d8"/></linearGradient><linearGradient id="g41" gradientUnits="userSpaceOnUse" x1="0" y1="667.4" x2="0" y2="386.4"><stop offset="0.0000" stop-color="#70b5b5"/><stop offset="0.0360" stop-color="#70b5b5"/><stop offset="0.0360" stop-color="#a8d7d7"/><stop offset="0.1030" stop-color="#a8d7d7"/><stop offset="0.1030" stop-color="#c4e5e5"/><stop offset="0.2190" stop-color="#c4e5e5"/><stop offset="0.2190" stop-color="#e55b22"/><stop offset="0.2540" stop-color="#e55b22"/><stop offset="0.2540" stop-color="#e88a5a"/><stop offset="0.3150" stop-color="#e88a5a"/><stop offset="0.3150" stop-color="#e8a47a"/><stop offset="0.3820" stop-color="#e8a47a"/><stop offset="0.3820" stop-color="#e8b090"/><stop offset="0.4660" stop-color="#e8b090"/><stop offset="0.4660" stop-color="#e69545"/><stop offset="0.5670" stop-color="#e69545"/><stop offset="0.5670" stop-color="#e8b070"/><stop offset="0.6310" stop-color="#e8b070"/><stop offset="0.6310" stop-color="#eecb98"/><stop offset="0.6950" stop-color="#eecb98"/><stop offset="0.6950" stop-color="#f2dcc0"/><stop offset="0.7580" stop-color="#f2dcc0"/><stop offset="0.7580" stop-color="#f7efe0"/><stop offset="0.8230" stop-color="#f7efe0"/><stop offset="0.8230" stop-color="#f3e0d0"/><stop offset="0.8800" stop-color="#f3e0d0"/><stop offset="0.8800" stop-color="#f5e8dc"/><stop offset="1.0000" stop-color="#f5e8dc"/></linearGradient><linearGradient id="g42" gradientUnits="userSpaceOnUse" x1="0" y1="667.4" x2="0" y2="386.4"><stop offset="0.0000" stop-color="#70b5b5"/><stop offset="0.0700" stop-color="#70b5b5"/><stop offset="0.0700" stop-color="#e55b22"/><stop offset="0.1480" stop-color="#e55b22"/><stop offset="0.1480" stop-color="#e8802c"/><stop offset="0.2150" stop-color="#e8802c"/><stop offset="0.2150" stop-color="#e89850"/><stop offset="0.3050" stop-color="#e89850"/><stop offset="0.3050" stop-color="#efcca2"/><stop offset="0.3930" stop-color="#efcca2"/><stop offset="0.3930" stop-color="#e8b070"/><stop offset="0.5000" stop-color="#e8b070"/><stop offset="0.5000" stop-color="#eecb98"/><stop offset="0.6950" stop-color="#eecb98"/><stop offset="0.6950" stop-color="#fbf6ef"/><stop offset="0.8250" stop-color="#fbf6ef"/><stop offset="0.8250" stop-color="#f5e6d8"/><stop offset="1.0000" stop-color="#f5e6d8"/></linearGradient><linearGradient id="g43" gradientUnits="userSpaceOnUse" x1="0" y1="667.1" x2="0" y2="403.8"><stop offset="0.0000" stop-color="#9a7bb8"/><stop offset="0.0340" stop-color="#9a7bb8"/><stop offset="0.0340" stop-color="#e56025"/><stop offset="0.0650" stop-color="#e56025"/><stop offset="0.0650" stop-color="#e56a30"/><stop offset="0.1140" stop-color="#e56a30"/><stop offset="0.1140" stop-color="#e57438"/><stop offset="0.1490" stop-color="#e57438"/><stop offset="0.1490" stop-color="#e88048"/><stop offset="0.1970" stop-color="#e88048"/><stop offset="0.1970" stop-color="#e88450"/><stop offset="0.2510" stop-color="#e88450"/><stop offset="0.2510" stop-color="#e8946a"/><stop offset="0.2910" stop-color="#e8946a"/><stop offset="0.2910" stop-color="#e89a72"/><stop offset="0.3400" stop-color="#e89a72"/><stop offset="0.3400" stop-color="#e8a07a"/><stop offset="0.3990" stop-color="#e8a07a"/><stop offset="0.3990" stop-color="#e8a884"/><stop offset="0.4390" stop-color="#e8a884"/><stop offset="0.4390" stop-color="#e6b090"/><stop offset="0.4960" stop-color="#e6b090"/><stop offset="0.4960" stop-color="#e8b89c"/><stop offset="0.5520" stop-color="#e8b89c"/><stop offset="0.5520" stop-color="#e8bea4"/><stop offset="0.6110" stop-color="#e8bea4"/><stop offset="0.6110" stop-color="#eac4ac"/><stop offset="0.6770" stop-color="#eac4ac"/><stop offset="0.6770" stop-color="#ecccb6"/><stop offset="0.7490" stop-color="#ecccb6"/><stop offset="0.7490" stop-color="#eed2c0"/><stop offset="0.7880" stop-color="#eed2c0"/><stop offset="0.7880" stop-color="#f0dccc"/><stop offset="0.8280" stop-color="#f0dccc"/><stop offset="0.8280" stop-color="#f3e3d6"/><stop offset="0.8630" stop-color="#f3e3d6"/><stop offset="0.8630" stop-color="#f5e8df"/><stop offset="0.9030" stop-color="#f5e8df"/><stop offset="0.9030" stop-color="#f6ede6"/><stop offset="0.9480" stop-color="#f6ede6"/><stop offset="0.9480" stop-color="#f7f2ed"/><stop offset="1.0000" stop-color="#f7f2ed"/></linearGradient><linearGradient id="g44" gradientUnits="userSpaceOnUse" x1="0" y1="667.1" x2="0" y2="403.8"><stop offset="0.0000" stop-color="#9a7bb8"/><stop offset="0.0720" stop-color="#9a7bb8"/><stop offset="0.0720" stop-color="#e56428"/><stop offset="0.1420" stop-color="#e56428"/><stop offset="0.1420" stop-color="#e8783e"/><stop offset="0.2320" stop-color="#e8783e"/><stop offset="0.2320" stop-color="#e8946a"/><stop offset="0.3130" stop-color="#e8946a"/><stop offset="0.3130" stop-color="#e89c74"/><stop offset="0.4110" stop-color="#e89c74"/><stop offset="0.4110" stop-color="#e8a47e"/><stop offset="0.5070" stop-color="#e8a47e"/><stop offset="0.5070" stop-color="#e8a884"/><stop offset="0.6700" stop-color="#e8a884"/><stop offset="0.6700" stop-color="#e8b090"/><stop offset="0.7580" stop-color="#e8b090"/><stop offset="0.7580" stop-color="#f0d8c8"/><stop offset="0.8580" stop-color="#f0d8c8"/><stop offset="0.8580" stop-color="#f7f1ec"/><stop offset="1.0000" stop-color="#f7f1ec"/></linearGradient><linearGradient id="g45" gradientUnits="userSpaceOnUse" x1="0" y1="667.1" x2="0" y2="403.8"><stop offset="0.0000" stop-color="#9a7bb8"/><stop offset="0.1660" stop-color="#9a7bb8"/><stop offset="0.1660" stop-color="#e56c30"/><stop offset="0.3330" stop-color="#e56c30"/><stop offset="0.3330" stop-color="#e57a40"/><stop offset="0.5560" stop-color="#e57a40"/><stop offset="0.5560" stop-color="#e8ae8c"/><stop offset="0.7740" stop-color="#e8ae8c"/><stop offset="0.7740" stop-color="#e8b694"/><stop offset="1.0000" stop-color="#e8b694"/></linearGradient><linearGradient id="g46" gradientUnits="userSpaceOnUse" x1="0" y1="667.1" x2="0" y2="403.8"><stop offset="0.0000" stop-color="#9a7bb8"/><stop offset="0.0690" stop-color="#9a7bb8"/><stop offset="0.0690" stop-color="#e56428"/><stop offset="0.1940" stop-color="#e56428"/><stop offset="0.1940" stop-color="#e57234"/><stop offset="0.2650" stop-color="#e57234"/><stop offset="0.2650" stop-color="#e87c44"/><stop offset="0.4030" stop-color="#e87c44"/><stop offset="0.4030" stop-color="#e8844e"/><stop offset="0.5420" stop-color="#e8844e"/><stop offset="0.5420" stop-color="#e88a58"/><stop offset="0.6790" stop-color="#e88a58"/><stop offset="0.6790" stop-color="#e88c5c"/><stop offset="0.8160" stop-color="#e88c5c"/><stop offset="0.8160" stop-color="#e8946a"/><stop offset="0.9100" stop-color="#e8946a"/><stop offset="0.9100" stop-color="#e6986c"/><stop offset="1.0000" stop-color="#e6986c"/></linearGradient></defs>
<rect x="1.5" y="1.5" width="682" height="762" fill="none" stroke="#333" stroke-width="1.2"/>
<line x1="1" y1="370" x2="684" y2="370" stroke="#8e8e8e" stroke-width="1.8"/>
<line x1="1" y1="742.5" x2="684" y2="742.5" stroke="#4a4a4a" stroke-width="1.2"/>
<rect x="21" y="747" width="13" height="13" fill="#4fb944"/>
<rect x="89" y="747" width="13" height="13" fill="#6a9bd3"/>
<rect x="175" y="747" width="13" height="13" fill="#72b6b5"/>
<rect x="247.7" y="747" width="13" height="13" fill="#9a7cbb"/>
<rect x="646.2" y="750.9" width="37" height="12.4" fill="#1e1414"/>
<g style="filter:grayscale(1)"><text x="20.3" y="303.4" font-size="11.6" text-anchor="end" fill="#111">0</text><text x="20.3" y="247.26" font-size="11.6" text-anchor="end" fill="#111">20</text><text x="20.3" y="191.12" font-size="11.6" text-anchor="end" fill="#111">40</text><text x="20.3" y="134.98" font-size="11.6" text-anchor="end" fill="#111">60</text><text x="20.3" y="78.84" font-size="11.6" text-anchor="end" fill="#111">80</text><text x="20.3" y="22.7" font-size="11.6" text-anchor="end" fill="#111">100</text><text transform="translate(39.26,306.5) rotate(-90)" font-size="11.6" text-anchor="end" fill="#111">Sample 1</text><text transform="translate(57.59,306.5) rotate(-90)" font-size="11.6" text-anchor="end" fill="#111">Sample 2</text><text transform="translate(75.91,306.5) rotate(-90)" font-size="11.6" text-anchor="end" fill="#111">Sample 5</text><text transform="translate(94.24,306.5) rotate(-90)" font-size="11.6" text-anchor="end" fill="#111">Sample 12</text><text transform="translate(112.56,306.5) rotate(-90)" font-size="11.6" text-anchor="end" fill="#111">Sample 17</text><text transform="translate(130.89,306.5) rotate(-90)" font-size="11.6" text-anchor="end" fill="#111">Sample 18</text><text transform="translate(149.21,306.5) rotate(-90)" font-size="11.6" text-anchor="end" fill="#111">Sample 19</text><text transform="translate(167.54,306.5) rotate(-90)" font-size="11.6" text-anchor="end" fill="#111">Sample 24</text><text transform="translate(185.86,306.5) rotate(-90)" font-size="11.6" text-anchor="end" fill="#111">Sample 25</text><text transform="translate(204.19,306.5) rotate(-90)" font-size="11.6" text-anchor="end" fill="#111">Sample 32</text><text transform="translate(222.51,306.5) rotate(-90)" font-size="11.6" text-anchor="end" fill="#111">Sample 37</text><text transform="translate(240.84,306.5) rotate(-90)" font-size="11.6" text-anchor="end" fill="#111">Sample 46</text><text transform="translate(259.16,306.5) rotate(-90)" font-size="11.6" text-anchor="end" fill="#111">Sample 47</text><text transform="translate(277.49,306.5) rotate(-90)" font-size="11.6" text-anchor="end" fill="#111">Sample 48</text><text transform="translate(295.81,306.5) rotate(-90)" font-size="11.6" text-anchor="end" fill="#111">Sample 13</text><text transform="translate(314.14,306.5) rotate(-90)" font-size="11.6" text-anchor="end" fill="#111">Sample 20</text><text x="169" y="365.1" font-size="11.7" text-anchor="middle" fill="#111">Hall Connection Type</text><text x="6.9" y="11.5" font-size="11.2" text-anchor="start" fill="#111">(a)</text><text x="336.8" y="95.1" font-size="9.4" text-anchor="start" fill="#111">Kitchen</text><text x="336.8" y="104.73" font-size="9.4" text-anchor="start" fill="#111">Utilitry Room-2</text><text x="336.8" y="114.37" font-size="9.4" text-anchor="start" fill="#111">Utilitry Room-1</text><text x="336.8" y="124" font-size="9.4" text-anchor="start" fill="#111">Walkway-2</text><text x="336.8" y="133.63" font-size="9.4" text-anchor="start" fill="#111">Walkway-1</text><text x="336.8" y="143.26" font-size="9.4" text-anchor="start" fill="#111">Corner Wing-room-2</text><text x="336.8" y="152.9" font-size="9.4" text-anchor="start" fill="#111">Corner Wing-room-1</text><text x="336.8" y="162.53" font-size="9.4" text-anchor="start" fill="#111">Wing Room-2</text><text x="336.8" y="172.16" font-size="9.4" text-anchor="start" fill="#111">Wing Room-1</text><text x="336.8" y="181.8" font-size="9.4" text-anchor="start" fill="#111">Stairwell-2</text><text x="336.8" y="191.43" font-size="9.4" text-anchor="start" fill="#111">Stairwell-1</text><text x="336.8" y="201.06" font-size="9.4" text-anchor="start" fill="#111">Inner Courtyard-2</text><text x="336.8" y="210.7" font-size="9.4" text-anchor="start" fill="#111">Inner Courtyard-1</text><text x="336.8" y="220.33" font-size="9.4" text-anchor="start" fill="#111">Courtyard</text><text x="336.8" y="229.96" font-size="9.4" text-anchor="start" fill="#111">Veranda-2</text><text x="336.8" y="239.59" font-size="9.4" text-anchor="start" fill="#111">Veranda-1</text><text x="336.8" y="249.23" font-size="9.4" text-anchor="start" fill="#111">Patio-2</text><text x="336.8" y="258.86" font-size="9.4" text-anchor="start" fill="#111">Patio-1</text><text x="336.8" y="268.49" font-size="9.4" text-anchor="start" fill="#111">Hall-4</text><text x="336.8" y="278.13" font-size="9.4" text-anchor="start" fill="#111">Hall-3</text><text x="336.8" y="287.76" font-size="9.4" text-anchor="start" fill="#111">Hall-2</text><text x="336.8" y="297.39" font-size="9.4" text-anchor="start" fill="#111">Hall</text><text x="429.85" y="302.7" font-size="11.6" text-anchor="end" fill="#111">0</text><text x="429.85" y="246.58" font-size="11.6" text-anchor="end" fill="#111">20</text><text x="429.85" y="190.46" font-size="11.6" text-anchor="end" fill="#111">40</text><text x="429.85" y="134.34" font-size="11.6" text-anchor="end" fill="#111">60</text><text x="429.85" y="78.22" font-size="11.6" text-anchor="end" fill="#111">80</text><text x="429.85" y="22.1" font-size="11.6" text-anchor="end" fill="#111">100</text><text transform="translate(448.81,306.6) rotate(-90)" font-size="11.6" text-anchor="end" fill="#111">Sample 4</text><text transform="translate(467.13,306.6) rotate(-90)" font-size="11.6" text-anchor="end" fill="#111">Sample 8</text><text transform="translate(485.45,306.6) rotate(-90)" font-size="11.6" text-anchor="end" fill="#111">Sample 26</text><text transform="translate(503.77,306.6) rotate(-90)" font-size="11.6" text-anchor="end" fill="#111">Sample 42</text><text transform="translate(522.09,306.6) rotate(-90)" font-size="11.6" text-anchor="end" fill="#111">Sample 34</text><text transform="translate(540.41,306.6) rotate(-90)" font-size="11.6" text-anchor="end" fill="#111">Sample 6</text><text transform="translate(558.73,306.6) rotate(-90)" font-size="11.6" text-anchor="end" fill="#111">Sample 14</text><text transform="translate(577.05,306.6) rotate(-90)" font-size="11.6" text-anchor="end" fill="#111">Sample 39</text><text x="513.7" y="365" font-size="11.7" text-anchor="middle" fill="#111">Walkway Connection Type</text><text x="415" y="10.3" font-size="11.2" text-anchor="start" fill="#111">(b)</text><text x="599.1" y="80.5" font-size="9.4" text-anchor="start" fill="#111">Kitchen</text><text x="599.1" y="89.99" font-size="9.4" text-anchor="start" fill="#111">Utilitry Room-2</text><text x="599.1" y="99.48" font-size="9.4" text-anchor="start" fill="#111">Utilitry Room-1</text><text x="599.1" y="108.97" font-size="9.4" text-anchor="start" fill="#111">Stairwell-4</text><text x="599.1" y="118.46" font-size="9.4" text-anchor="start" fill="#111">Stairwell-3</text><text x="599.1" y="127.95" font-size="9.4" text-anchor="start" fill="#111">Corner Wing-room-2</text><text x="599.1" y="137.44" font-size="9.4" text-anchor="start" fill="#111">Corner Wing-room-1</text><text x="599.1" y="146.93" font-size="9.4" text-anchor="start" fill="#111">Wing Room-3</text><text x="599.1" y="156.42" font-size="9.4" text-anchor="start" fill="#111">Wing Room-2</text><text x="599.1" y="165.91" font-size="9.4" text-anchor="start" fill="#111">Wing Room-1</text><text x="599.1" y="175.4" font-size="9.4" text-anchor="start" fill="#111">Stairwell-2</text><text x="599.1" y="184.89" font-size="9.4" text-anchor="start" fill="#111">Stairwell-1</text><text x="599.1" y="194.38" font-size="9.4" text-anchor="start" fill="#111">Outside</text><text x="599.1" y="203.87" font-size="9.4" text-anchor="start" fill="#111">Courtyard</text><text x="599.1" y="213.36" font-size="9.4" text-anchor="start" fill="#111">Instrument Hall</text><text x="599.1" y="222.85" font-size="9.4" text-anchor="start" fill="#111">Veranda-3</text><text x="599.1" y="232.34" font-size="9.4" text-anchor="start" fill="#111">Veranda-2</text><text x="599.1" y="241.83" font-size="9.4" text-anchor="start" fill="#111">Veranda-1</text><text x="599.1" y="251.32" font-size="9.4" text-anchor="start" fill="#111">Hall-2</text><text x="599.1" y="260.81" font-size="9.4" text-anchor="start" fill="#111">Hall-1</text><text x="599.1" y="270.3" font-size="9.4" text-anchor="start" fill="#111">Patio-2</text><text x="599.1" y="279.79" font-size="9.4" text-anchor="start" fill="#111">Patio-1</text><text x="599.1" y="289.28" font-size="9.4" text-anchor="start" fill="#111">Walkway-2</text><text x="599.1" y="298.77" font-size="9.4" text-anchor="start" fill="#111">Walkway-1</text><text x="23.85" y="671.3" font-size="11.6" text-anchor="end" fill="#111">0</text><text x="23.85" y="615.1" font-size="11.6" text-anchor="end" fill="#111">20</text><text x="23.85" y="558.9" font-size="11.6" text-anchor="end" fill="#111">40</text><text x="23.85" y="502.7" font-size="11.6" text-anchor="end" fill="#111">60</text><text x="23.85" y="446.5" font-size="11.6" text-anchor="end" fill="#111">80</text><text x="23.85" y="390.3" font-size="11.6" text-anchor="end" fill="#111">100</text><text transform="translate(42.82,673.4) rotate(-90)" font-size="11.6" text-anchor="end" fill="#111">Sample 1</text><text transform="translate(61.15,673.4) rotate(-90)" font-size="11.6" text-anchor="end" fill="#111">Sample 3</text><text transform="translate(79.47,673.4) rotate(-90)" font-size="11.6" text-anchor="end" fill="#111">Sample 4</text><text transform="translate(97.8,673.4) rotate(-90)" font-size="11.6" text-anchor="end" fill="#111">Sample 9</text><text transform="translate(116.13,673.4) rotate(-90)" font-size="11.6" text-anchor="end" fill="#111">Sample 11</text><text transform="translate(134.47,673.4) rotate(-90)" font-size="11.6" text-anchor="end" fill="#111">Sample 12</text><text transform="translate(152.79,673.4) rotate(-90)" font-size="11.6" text-anchor="end" fill="#111">Sample 13</text><text transform="translate(171.12,673.4) rotate(-90)" font-size="11.6" text-anchor="end" fill="#111">Sample 27</text><text transform="translate(189.45,673.4) rotate(-90)" font-size="11.6" text-anchor="end" fill="#111">Sample 28</text><text transform="translate(207.78,673.4) rotate(-90)" font-size="11.6" text-anchor="end" fill="#111">Sample 30</text><text transform="translate(226.11,673.4) rotate(-90)" font-size="11.6" text-anchor="end" fill="#111">Sample 33</text><text transform="translate(244.44,673.4) rotate(-90)" font-size="11.6" text-anchor="end" fill="#111">Sample 40</text><text transform="translate(262.77,673.4) rotate(-90)" font-size="11.6" text-anchor="end" fill="#111">Sample 41</text><text transform="translate(281.11,673.4) rotate(-90)" font-size="11.6" text-anchor="end" fill="#111">Sample 43</text><text transform="translate(299.44,673.4) rotate(-90)" font-size="11.6" text-anchor="end" fill="#111">Sample 44</text><text transform="translate(317.76,673.4) rotate(-90)" font-size="11.6" text-anchor="end" fill="#111">Sample 45</text><text transform="translate(336.1,673.4) rotate(-90)" font-size="11.6" text-anchor="end" fill="#111">Sample 50</text><text transform="translate(354.43,673.4) rotate(-90)" font-size="11.6" text-anchor="end" fill="#111">Sample 51</text><text transform="translate(372.75,673.4) rotate(-90)" font-size="11.6" text-anchor="end" fill="#111">Sample 62</text><text x="214.5" y="734.6" font-size="11.7" text-anchor="middle" fill="#111">Patio Connection Type</text><text x="7.5" y="379.8" font-size="11.2" text-anchor="start" fill="#111">(c)</text><text x="394.8" y="483.7" font-size="9.4" text-anchor="start" fill="#111">Utilitry room</text><text x="394.8" y="492.86" font-size="9.4" text-anchor="start" fill="#111">Utilitry Room-2</text><text x="394.8" y="502.02" font-size="9.4" text-anchor="start" fill="#111">Utilitry Room-1</text><text x="394.8" y="511.18" font-size="9.4" text-anchor="start" fill="#111">Walkway-2</text><text x="394.8" y="520.34" font-size="9.4" text-anchor="start" fill="#111">Walkway-1</text><text x="394.8" y="529.5" font-size="9.4" text-anchor="start" fill="#111">Corner Wing-room-2</text><text x="394.8" y="538.66" font-size="9.4" text-anchor="start" fill="#111">Corner Wing-room-1</text><text x="394.8" y="547.82" font-size="9.4" text-anchor="start" fill="#111">Wing Room-3</text><text x="394.8" y="556.98" font-size="9.4" text-anchor="start" fill="#111">Wing Room-2</text><text x="394.8" y="566.14" font-size="9.4" text-anchor="start" fill="#111">Wing Room-1</text><text x="394.8" y="575.3" font-size="9.4" text-anchor="start" fill="#111">Stairwell-2</text><text x="394.8" y="584.46" font-size="9.4" text-anchor="start" fill="#111">Stairwell-1</text><text x="394.8" y="593.62" font-size="9.4" text-anchor="start" fill="#111">Inner Courtyard-2</text><text x="394.8" y="602.78" font-size="9.4" text-anchor="start" fill="#111">Inner Courtyard-1</text><text x="394.8" y="611.94" font-size="9.4" text-anchor="start" fill="#111">Courtyard(Outside)</text><text x="394.8" y="621.1" font-size="9.4" text-anchor="start" fill="#111">Veranda-2</text><text x="394.8" y="630.26" font-size="9.4" text-anchor="start" fill="#111">Veranda-1</text><text x="394.8" y="639.42" font-size="9.4" text-anchor="start" fill="#111">Hall-2</text><text x="394.8" y="648.58" font-size="9.4" text-anchor="start" fill="#111">Hall-1</text><text x="394.8" y="657.74" font-size="9.4" text-anchor="start" fill="#111">Patio-2</text><text x="394.8" y="666.9" font-size="9.4" text-anchor="start" fill="#111">Patio-1</text><text x="506.5" y="670.8" font-size="11.6" text-anchor="end" fill="#111">0</text><text x="506.5" y="618.14" font-size="11.6" text-anchor="end" fill="#111">20</text><text x="506.5" y="565.48" font-size="11.6" text-anchor="end" fill="#111">40</text><text x="506.5" y="512.82" font-size="11.6" text-anchor="end" fill="#111">60</text><text x="506.5" y="460.16" font-size="11.6" text-anchor="end" fill="#111">80</text><text x="506.5" y="407.5" font-size="11.6" text-anchor="end" fill="#111">100</text><text transform="translate(534.75,674.1) rotate(-90)" font-size="11.6" text-anchor="end" fill="#111">Sample 7</text><text transform="translate(553.15,674.1) rotate(-90)" font-size="11.6" text-anchor="end" fill="#111">Sample 31</text><text transform="translate(571.55,674.1) rotate(-90)" font-size="11.6" text-anchor="end" fill="#111">Sample 35</text><text transform="translate(589.95,674.1) rotate(-90)" font-size="11.6" text-anchor="end" fill="#111">Sample 36</text><text x="559.7" y="735" font-size="11.7" text-anchor="middle" fill="#111">Courtyard Connection Type</text><text x="490.6" y="380.8" font-size="11.2" text-anchor="start" fill="#111">(d)</text><text x="611.2" y="531.7" font-size="9.4" text-anchor="start" fill="#111">Kitchen</text><text x="611.2" y="541.3" font-size="9.4" text-anchor="start" fill="#111">Walkway</text><text x="611.2" y="550.9" font-size="9.4" text-anchor="start" fill="#111">Corner Wing-room</text><text x="611.2" y="560.5" font-size="9.4" text-anchor="start" fill="#111">Wing Room-3</text><text x="611.2" y="570.1" font-size="9.4" text-anchor="start" fill="#111">Wing Room-2</text><text x="611.2" y="579.7" font-size="9.4" text-anchor="start" fill="#111">Wing Room-1</text><text x="611.2" y="589.3" font-size="9.4" text-anchor="start" fill="#111">Stairwell</text><text x="611.2" y="598.9" font-size="9.4" text-anchor="start" fill="#111">Courtyard</text><text x="611.2" y="608.5" font-size="9.4" text-anchor="start" fill="#111">Veranda-2</text><text x="611.2" y="618.1" font-size="9.4" text-anchor="start" fill="#111">Veranda-1</text><text x="611.2" y="627.7" font-size="9.4" text-anchor="start" fill="#111">Hall-2</text><text x="611.2" y="637.3" font-size="9.4" text-anchor="start" fill="#111">Hall-1</text><text x="611.2" y="646.9" font-size="9.4" text-anchor="start" fill="#111">Patio-2</text><text x="611.2" y="656.5" font-size="9.4" text-anchor="start" fill="#111">Patio-1</text><text x="611.2" y="666.1" font-size="9.4" text-anchor="start" fill="#111">Courtyard</text><text x="37.4" y="757.6" font-size="9.5" text-anchor="start" fill="#111">:</text><text x="44.3" y="757.6" font-size="9.5" text-anchor="start" fill="#111">Hall</text><text x="105.4" y="757.6" font-size="9.5" text-anchor="start" fill="#111">:</text><text x="112.3" y="757.6" font-size="9.5" text-anchor="start" fill="#111">Walkway</text><text x="191.4" y="757.6" font-size="9.5" text-anchor="start" fill="#111">:</text><text x="198.3" y="757.6" font-size="9.5" text-anchor="start" fill="#111">Patio</text><text x="264.1" y="757.6" font-size="9.5" text-anchor="start" fill="#111">:</text><text x="271" y="757.6" font-size="9.5" text-anchor="start" fill="#111">Courtyard</text><text x="664.9" y="760.1" font-size="11.5" text-anchor="middle" fill="#ffffff">Legend</text></g>
</svg>
</body></html>
